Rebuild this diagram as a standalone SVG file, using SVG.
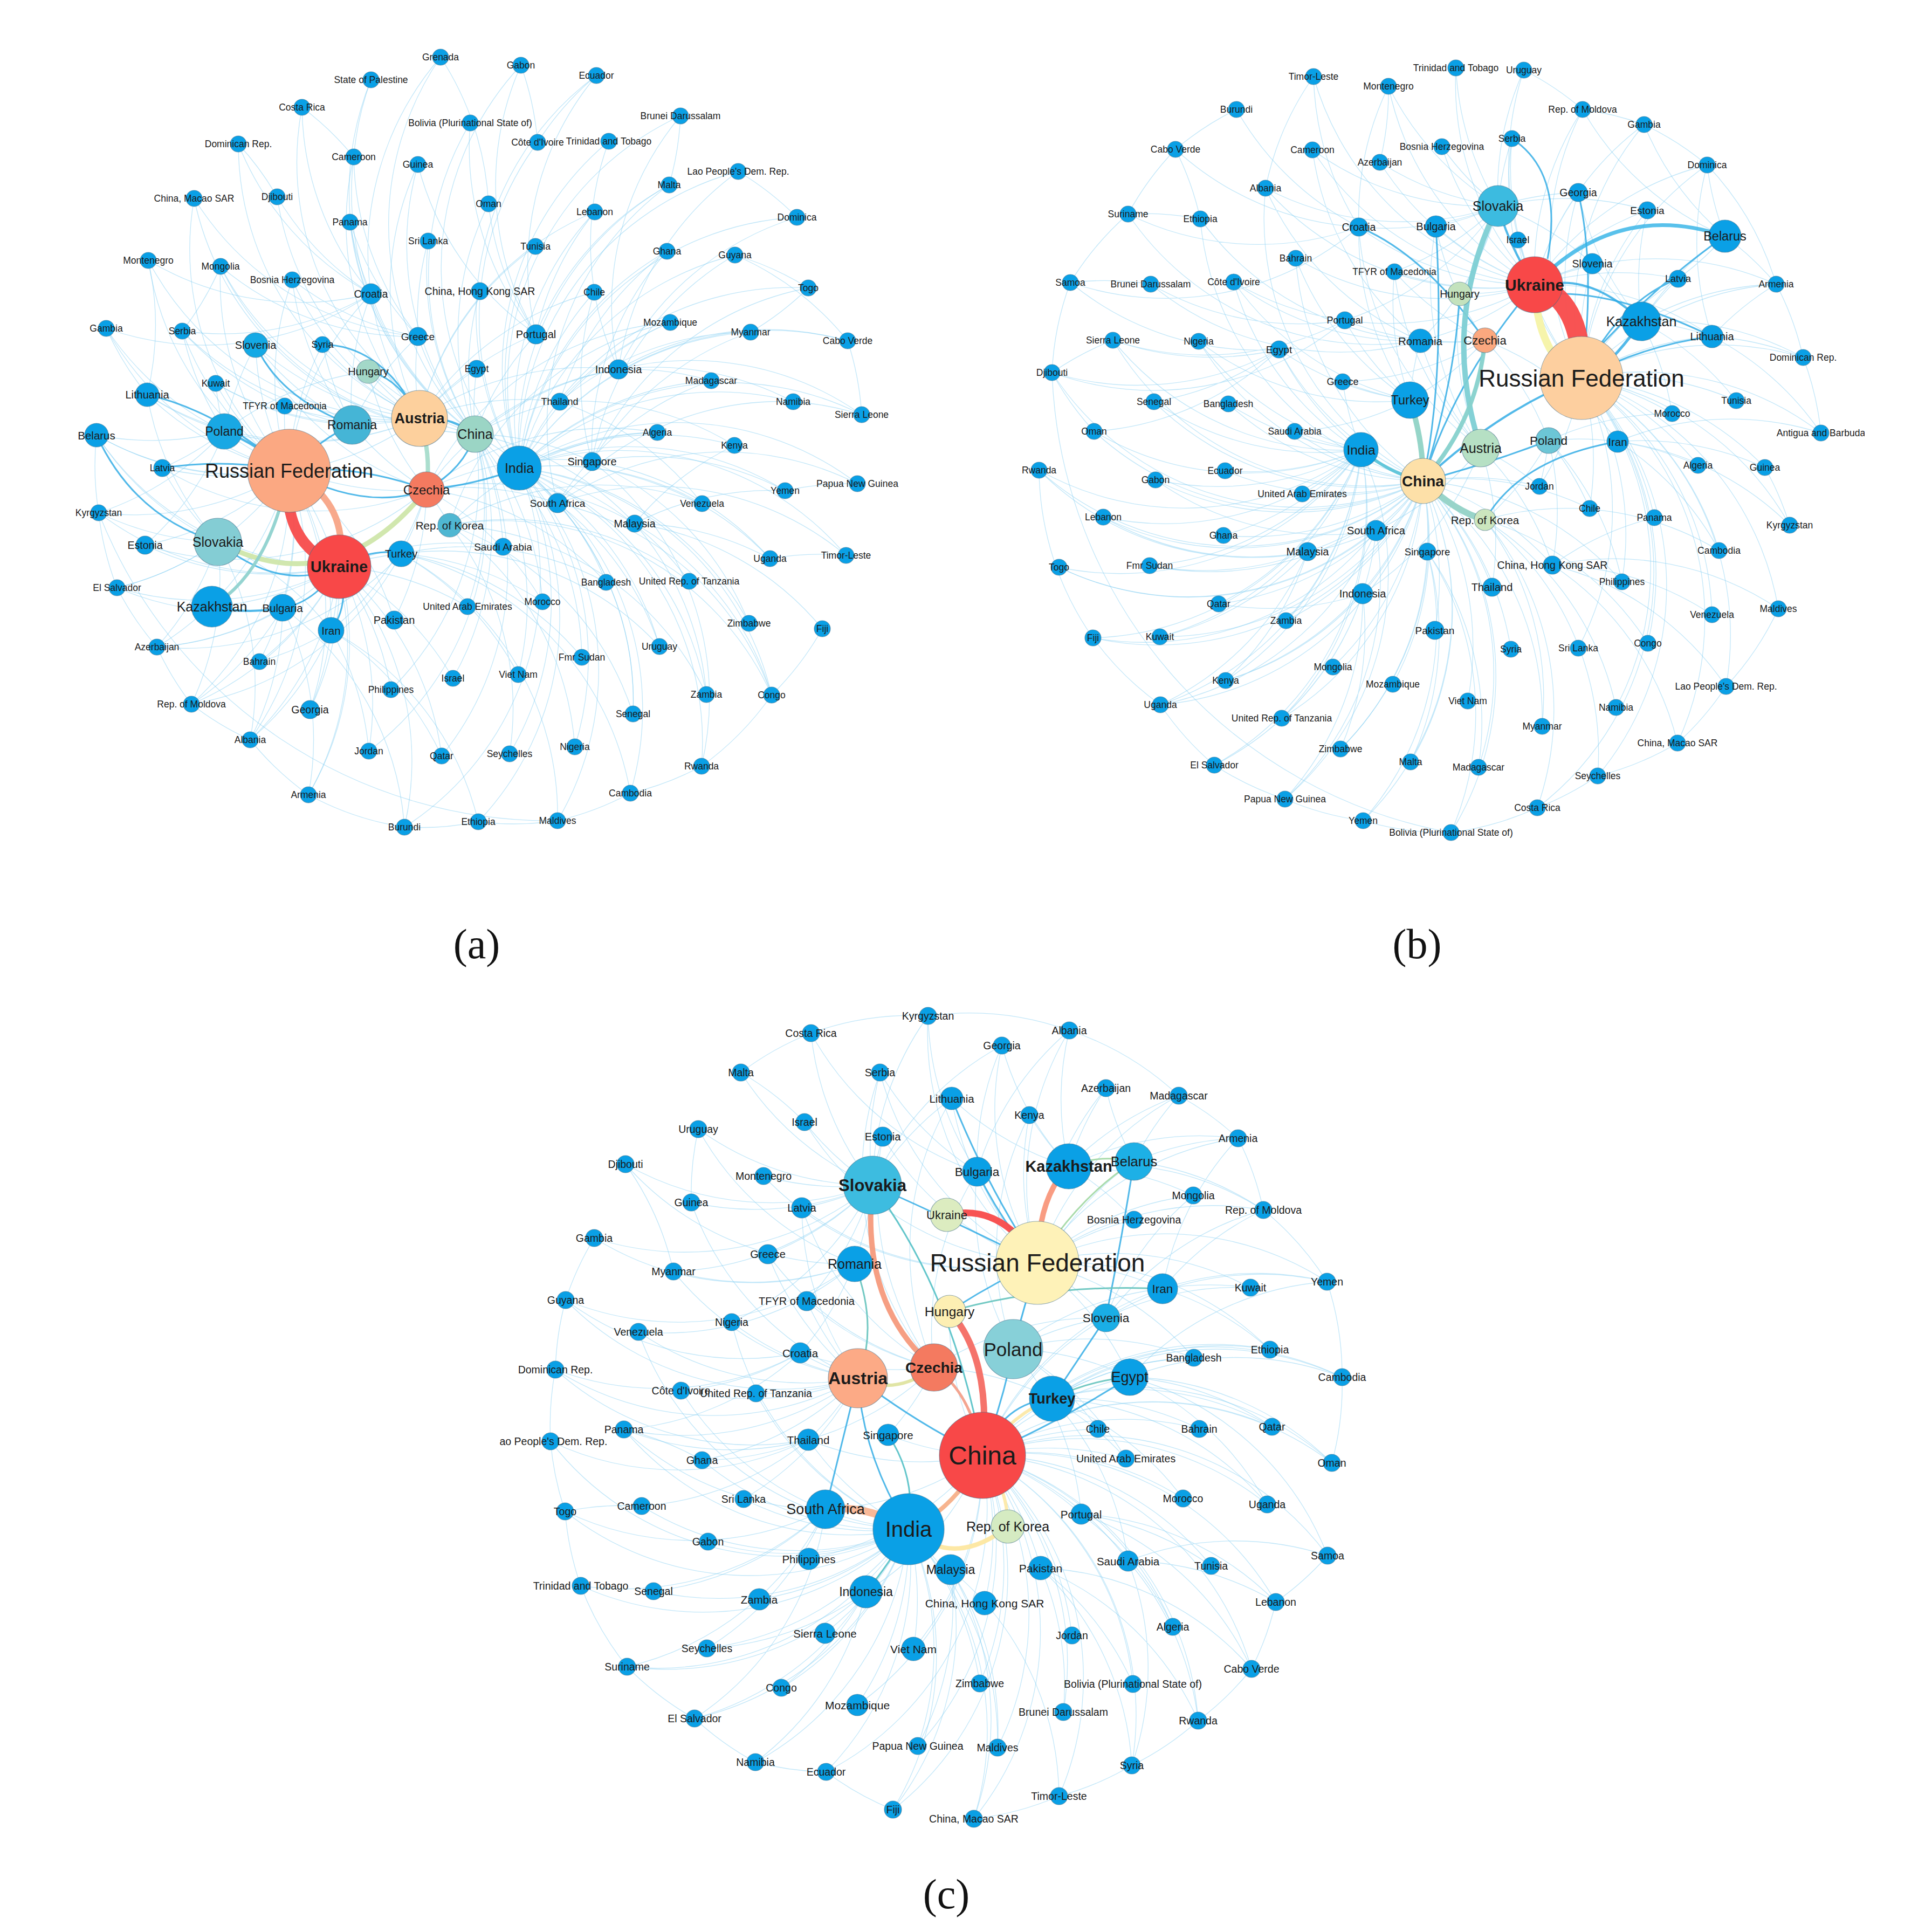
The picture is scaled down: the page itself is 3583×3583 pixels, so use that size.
<svg xmlns="http://www.w3.org/2000/svg" width="3583" height="3583" viewBox="0 0 3583 3583">
<defs>
<style>
.n circle{fill:#0aa0e6;stroke:#3d6a85;stroke-opacity:.55;stroke-width:1.2}
.n text{font-family:"Liberation Sans",Arial,sans-serif;font-size:17.5px;fill:#1b1b1b;text-anchor:middle;dominant-baseline:central}
#panel-c .n text{font-size:19.5px}
.e{fill:none;stroke:#86cff3;stroke-width:1.3;stroke-opacity:.5}
.m{fill:none;stroke:#27a7e3;stroke-width:3;stroke-opacity:.8}
.s{fill:none;stroke-linecap:round;stroke-opacity:.95}
.cap{font-family:"Liberation Serif","Times New Roman",serif;font-size:78px;text-anchor:middle;dominant-baseline:central;fill:#111}
</style>
<clipPath id="clipB"><rect x="1850" y="0" width="1608" height="1700"/></clipPath>
<clipPath id="clipC"><rect x="927" y="1800" width="1700" height="1700"/></clipPath>
</defs>
<rect width="3583" height="3583" fill="#fff"/>

<g id="panel-a">
<g id="a-connectors">
<path class="e" d="M963 868A550 550 0 0 1 966 121M963 868A550 550 0 0 1 1106 140M963 868A550 550 0 0 1 1262 215M963 868A550 550 0 0 1 1129 262M963 868A550 550 0 0 1 997 264M963 868A550 550 0 0 1 1369 318M963 868A550 550 0 0 1 1241 343M963 868A550 550 0 0 1 1103 393M963 868A550 550 0 0 1 1478 403M963 868A550 550 0 0 1 993 457M963 868A550 550 0 0 1 1237 466M963 868A550 550 0 0 1 1363 473M963 868A550 550 0 0 1 1499 534M963 868A550 550 0 0 1 1102 542M963 868A550 550 0 0 1 1243 598M963 868A550 550 0 0 1 1392 616M963 868A550 550 0 0 1 1572 632M963 868A550 550 0 0 1 1319 706M963 868A550 550 0 0 1 1471 745M963 868A550 550 0 0 1 1598 769M963 868A550 550 0 0 1 1219 802M963 868A550 550 0 0 1 1362 826M963 868A550 550 0 0 1 1590 897M963 868A550 550 0 0 1 1456 910M963 868A550 550 0 0 1 1302 934M963 868A550 550 0 0 1 1428 1036M963 868A550 550 0 0 1 1569 1030M963 868A550 550 0 0 1 1278 1078M963 868A550 550 0 0 1 1389 1156M963 868A550 550 0 0 1 1223 1199M963 868A550 550 0 0 1 1310 1288M963 868A550 550 0 0 1 1431 1289M963 868A550 550 0 0 1 1174 1324M963 868A550 550 0 0 1 1301 1421M963 868A550 550 0 0 1 1169 1471M963 868A550 550 0 0 1 1034 1522M963 868A550 550 0 0 1 1066 1385M963 868A550 550 0 0 1 945 1398M963 868A550 550 0 0 1 887 1524M963 868A550 550 0 0 1 750 1534"/>
<path class="e" d="M881 805A550 550 0 0 1 817 106M881 805A550 550 0 0 1 688 148M881 805A550 550 0 0 1 872 228M881 805A550 550 0 0 1 656 291M881 805A550 550 0 0 1 775 305M881 805A550 550 0 0 1 906 378M881 805A550 550 0 0 1 794 447M881 805A550 550 0 0 1 649 412M881 805A550 550 0 0 1 890 540M881 805A550 550 0 0 1 560 199M881 805A550 550 0 0 1 514 365M881 805A550 550 0 0 1 360 368M881 805A550 550 0 0 1 442 267M881 805A550 550 0 0 1 409 494M881 805A550 550 0 0 1 688 545M881 805A550 550 0 0 1 775 624M881 805A550 550 0 0 1 884 684M881 805A550 550 0 0 1 994 620M881 805A550 550 0 0 1 1147 685M881 805A550 550 0 0 1 1038 745M881 805A550 550 0 0 1 1098 856M881 805A550 550 0 0 1 1177 971M881 805A550 550 0 0 1 1124 1080M881 805A550 550 0 0 1 1006 1116M881 805A550 550 0 0 1 1079 1219M881 805A550 550 0 0 1 961 1251M881 805A550 550 0 0 1 867 1125M881 805A550 550 0 0 1 933 1014M881 805A550 550 0 0 1 1034 933M881 805A550 550 0 0 1 819 1402M881 805A550 550 0 0 1 684 1393M881 805A550 550 0 0 1 840 1258M881 805A550 550 0 0 1 725 1279"/>
<path class="e" d="M536 873A550 550 0 0 1 179 807M536 873A550 550 0 0 1 301 868M536 873A550 550 0 0 1 183 951M536 873A550 550 0 0 1 269 1011M536 873A550 550 0 0 1 217 1090M536 873A550 550 0 0 1 273 732M536 873A550 550 0 0 1 197 609M536 873A550 550 0 0 1 275 483M536 873A550 550 0 0 1 338 614M536 873A550 550 0 0 1 400 711M536 873A550 550 0 0 1 291 1200M536 873A550 550 0 0 1 355 1306M536 873A550 550 0 0 1 464 1372M536 873A550 550 0 0 1 572 1474M536 873A550 550 0 0 1 575 1316M536 873A550 550 0 0 1 481 1227M536 873A550 550 0 0 1 524 1127M536 873A550 550 0 0 1 614 1169M536 873A550 550 0 0 1 474 640M536 873A550 550 0 0 1 542 519M536 873A550 550 0 0 1 528 753M536 873A550 550 0 0 1 598 639M536 873A550 550 0 0 1 731 1150M536 873A550 550 0 0 1 409 494M536 873A550 550 0 0 1 360 368M536 873A550 550 0 0 1 688 545"/>
<path class="e" d="M629 1051A550 550 0 0 1 393 1125M629 1051A550 550 0 0 1 575 1316M629 1051A550 550 0 0 1 572 1474M629 1051A550 550 0 0 1 355 1306M629 1051A550 550 0 0 1 291 1200M629 1051A550 550 0 0 1 744 1027M629 1051A550 550 0 0 1 614 1169M629 1051A550 550 0 0 1 684 1393M629 1051A550 550 0 0 1 725 1279M629 1051A550 550 0 0 1 840 1258M629 1051A550 550 0 0 1 819 1402M629 1051A550 550 0 0 1 750 1534M629 1051A550 550 0 0 1 464 1372M629 1051A550 550 0 0 1 481 1227M629 1051A550 550 0 0 1 867 1125M629 1051A550 550 0 0 1 933 1014M629 1051A550 550 0 0 1 269 1011M629 1051A550 550 0 0 1 217 1090M629 1051A550 550 0 0 1 179 807M629 1051A550 550 0 0 1 183 951"/>
<path class="e" d="M778 776A550 550 0 0 1 683 689M778 776A550 550 0 0 1 474 640M778 776A550 550 0 0 1 688 545M778 776A550 550 0 0 1 542 519M778 776A550 550 0 0 1 338 614M778 776A550 550 0 0 1 275 483M778 776A550 550 0 0 1 409 494M778 776A550 550 0 0 1 528 753M778 776A550 550 0 0 1 598 639M778 776A550 550 0 0 1 775 624M778 776A550 550 0 0 1 884 684M778 776A550 550 0 0 1 400 711M778 776A550 550 0 0 1 273 732M778 776A550 550 0 0 1 179 807M778 776A550 550 0 0 1 416 800M778 776A550 550 0 0 1 994 620M778 776A550 550 0 0 1 1147 685M778 776A550 550 0 0 1 1038 745M778 776A550 550 0 0 1 1102 542M778 776A550 550 0 0 1 993 457M778 776A550 550 0 0 1 1103 393M778 776A550 550 0 0 1 656 291M778 776A550 550 0 0 1 775 305"/>
<path class="e" d="M791 908A550 550 0 0 1 416 800M791 908A550 550 0 0 1 653 788M791 908A550 550 0 0 1 683 689M791 908A550 550 0 0 1 474 640M791 908A550 550 0 0 1 744 1027M791 908A550 550 0 0 1 834 974M791 908A550 550 0 0 1 1034 933M791 908A550 550 0 0 1 1098 856M791 908A550 550 0 0 1 1177 971M791 908A550 550 0 0 1 1124 1080M791 908A550 550 0 0 1 1006 1116M791 908A550 550 0 0 1 731 1150M791 908A550 550 0 0 1 614 1169M791 908A550 550 0 0 1 1219 802M791 908A550 550 0 0 1 1243 598M791 908A550 550 0 0 1 1147 685M791 908A550 550 0 0 1 301 868M791 908A550 550 0 0 1 269 1011"/>
<path class="e" d="M416 800A550 550 0 0 1 179 807M416 800A550 550 0 0 1 273 732M416 800A550 550 0 0 1 301 868M416 800A550 550 0 0 1 197 609M416 800A550 550 0 0 1 338 614M416 800A550 550 0 0 1 400 711M416 800A550 550 0 0 1 183 951M416 800A550 550 0 0 1 269 1011M416 800A550 550 0 0 1 683 689M416 800A550 550 0 0 1 474 640M404 1005A550 550 0 0 1 179 807M404 1005A550 550 0 0 1 273 732M404 1005A550 550 0 0 1 301 868M404 1005A550 550 0 0 1 183 951M404 1005A550 550 0 0 1 217 1090M404 1005A550 550 0 0 1 291 1200M404 1005A550 550 0 0 1 355 1306M404 1005A550 550 0 0 1 464 1372M404 1005A550 550 0 0 1 614 1169M653 788A550 550 0 0 1 474 640M653 788A550 550 0 0 1 542 519M653 788A550 550 0 0 1 338 614M653 788A550 550 0 0 1 400 711M653 788A550 550 0 0 1 598 639M653 788A550 550 0 0 1 688 545M653 788A550 550 0 0 1 775 624"/>
<path class="e" d="M744 1027A550 550 0 0 1 1079 1219M744 1027A550 550 0 0 1 1223 1199M744 1027A550 550 0 0 1 961 1251M744 1027A550 550 0 0 1 1006 1116M744 1027A550 550 0 0 1 1124 1080M744 1027A550 550 0 0 1 355 1306M744 1027A550 550 0 0 1 291 1200M744 1027A550 550 0 0 1 1169 1471M744 1027A550 550 0 0 1 1034 1522M834 974A550 550 0 0 1 1302 934M834 974A550 550 0 0 1 1278 1078M834 974A550 550 0 0 1 1310 1288M834 974A550 550 0 0 1 1174 1324M834 974A550 550 0 0 1 1066 1385M834 974A550 550 0 0 1 945 1398M834 974A550 550 0 0 1 1431 1289M834 974A550 550 0 0 1 1219 802M834 974A550 550 0 0 1 1243 598M1098 856A550 550 0 0 1 1363 473M1098 856A550 550 0 0 1 1392 616M1098 856A550 550 0 0 1 1499 534M1098 856A550 550 0 0 1 1456 910M1098 856A550 550 0 0 1 1428 1036M1098 856A550 550 0 0 1 1389 1156M1098 856A550 550 0 0 1 1301 1421M1098 856A550 550 0 0 1 1237 466M1098 856A550 550 0 0 1 1102 542M1034 933A550 550 0 0 1 1471 745M1034 933A550 550 0 0 1 1319 706M1034 933A550 550 0 0 1 1590 897M1034 933A550 550 0 0 1 1569 1030M1034 933A550 550 0 0 1 1431 1289M1034 933A550 550 0 0 1 1174 1324M1034 933A550 550 0 0 1 1223 1199M1034 933A550 550 0 0 1 1241 343"/>
<path class="e" d="M1147 685A550 550 0 0 1 1369 318M1147 685A550 550 0 0 1 1262 215M1147 685A550 550 0 0 1 1129 262M1147 685A550 550 0 0 1 1478 403M1147 685A550 550 0 0 1 1572 632M1147 685A550 550 0 0 1 1598 769M1147 685A550 550 0 0 1 1319 706M1147 685A550 550 0 0 1 1471 745M994 620A550 550 0 0 1 872 228M994 620A550 550 0 0 1 966 121M994 620A550 550 0 0 1 1106 140M994 620A550 550 0 0 1 775 305M994 620A550 550 0 0 1 906 378M994 620A550 550 0 0 1 1241 343M994 620A550 550 0 0 1 1103 393M688 545A550 550 0 0 1 442 267M688 545A550 550 0 0 1 560 199M688 545A550 550 0 0 1 514 365M688 545A550 550 0 0 1 649 412M688 545A550 550 0 0 1 275 483M688 545A550 550 0 0 1 338 614M688 545A550 550 0 0 1 197 609M688 545A550 550 0 0 1 817 106M775 624A550 550 0 0 1 409 494M775 624A550 550 0 0 1 542 519M775 624A550 550 0 0 1 360 368M775 624A550 550 0 0 1 649 412M775 624A550 550 0 0 1 794 447M775 624A550 550 0 0 1 656 291M1038 745A550 550 0 0 1 1243 598M1038 745A550 550 0 0 1 1392 616M1038 745A550 550 0 0 1 1362 826M1038 745A550 550 0 0 1 1302 934M1038 745A550 550 0 0 1 1237 466M1177 971A550 550 0 0 1 1362 826M1177 971A550 550 0 0 1 1456 910M1177 971A550 550 0 0 1 1428 1036M1177 971A550 550 0 0 1 1310 1288M1177 971A550 550 0 0 1 1431 1289M1177 971A550 550 0 0 1 1525 1166M524 1127A550 550 0 0 1 217 1090M524 1127A550 550 0 0 1 291 1200M524 1127A550 550 0 0 1 355 1306M524 1127A550 550 0 0 1 464 1372M524 1127A550 550 0 0 1 572 1474M524 1127A550 550 0 0 1 750 1534M614 1169A550 550 0 0 1 481 1227M614 1169A550 550 0 0 1 464 1372M614 1169A550 550 0 0 1 684 1393M614 1169A550 550 0 0 1 819 1402M614 1169A550 550 0 0 1 887 1524M614 1169A550 550 0 0 1 575 1316"/>
<path class="e" d="M275 483A550 550 0 0 1 273 732M409 494A550 550 0 0 1 338 614M442 267A550 550 0 0 1 514 365M560 199A550 550 0 0 1 656 291M688 148A550 550 0 0 0 656 291M817 106A550 550 0 0 1 906 378M966 121A550 550 0 0 1 997 264M1106 140A550 550 0 0 0 997 264M1262 215A550 550 0 0 1 1241 343M1369 318A550 550 0 0 1 1478 403M1363 473A550 550 0 0 1 1572 632M1499 534A550 550 0 0 1 1392 616M1572 632A550 550 0 0 1 1598 769M1598 769A550 550 0 0 0 1471 745M1590 897A550 550 0 0 0 1456 910M1569 1030A550 550 0 0 0 1428 1036M1525 1166A550 550 0 0 1 1431 1289M1431 1289A550 550 0 0 1 1301 1421M1301 1421A550 550 0 0 1 1169 1471M1169 1471A550 550 0 0 1 1034 1522M1034 1522A550 550 0 0 1 887 1524M887 1524A550 550 0 0 1 750 1534M750 1534A550 550 0 0 1 572 1474M572 1474A550 550 0 0 1 464 1372M464 1372A550 550 0 0 1 355 1306M355 1306A550 550 0 0 1 291 1200M291 1200A550 550 0 0 1 217 1090M217 1090A550 550 0 0 1 183 951M183 951A550 550 0 0 1 179 807M183 951A900 900 0 0 0 1034 1522M197 609A550 550 0 0 0 273 732M1363 473A550 550 0 0 1 1499 534"/>
<path class="m" d="M179 807Q250 960 404 1005M404 1005Q520 1100 629 1051M536 873Q660 860 791 908M536 873Q680 950 791 908M598 639Q710 640 778 776M474 640Q520 740 653 788M629 1051Q580 1120 524 1127M629 1051Q650 1120 614 1169M629 1051Q690 1015 744 1027M791 908Q860 870 881 805M791 908Q880 900 963 868M683 689Q740 700 778 776M653 788Q600 810 536 873M273 732Q400 760 536 873M301 868Q420 850 536 873"/>
<path class="m" style="stroke-width:4" d="M393 1125Q460 1140 524 1127M416 800Q470 820 536 873M778 776Q830 770 881 805"/>
<path class="s" style="stroke:#cfe6aa;stroke-width:9" d="M404 1005Q620 1120 791 908"/>
<path class="s" style="stroke:#8fd2cf;stroke-width:6" d="M393 1125Q500 1060 536 873"/>
<path class="s" style="stroke:#a7dccb;stroke-width:8" d="M778 776Q800 840 791 908"/>
<path class="s" style="stroke:#f8a486;stroke-width:12" d="M536 873Q650 930 629 1051"/>
<path class="s" style="stroke:#f74b4b;stroke-width:20" d="M536 873Q520 1010 629 1051"/>
</g>
<g id="a-nodes">
<g id="a-russian-federation" class="n" transform="translate(536,873)"><circle r="77" style="fill:#fba882"/><text style="font-size:36px">Russian Federation</text></g>
<g id="a-ukraine" class="n" transform="translate(629,1051)"><circle r="59" style="fill:#f84848"/><text style="font-size:29px;font-weight:bold">Ukraine</text></g>
<g id="a-austria" class="n" transform="translate(778,776)"><circle r="52" style="fill:#fdd09d"/><text style="font-size:27px;font-weight:bold">Austria</text></g>
<g id="a-slovakia" class="n" transform="translate(404,1005)"><circle r="44" style="fill:#84cdd4"/><text style="font-size:25px">Slovakia</text></g>
<g id="a-india" class="n" transform="translate(963,868)"><circle r="41"/><text style="font-size:25px">India</text></g>
<g id="a-kazakhstan" class="n" transform="translate(393,1125)"><circle r="38"/><text style="font-size:25px">Kazakhstan</text></g>
<g id="a-romania" class="n" transform="translate(653,788)"><circle r="36" style="fill:#45b5d6"/><text style="font-size:23px">Romania</text></g>
<g id="a-china" class="n" transform="translate(881,805)"><circle r="34" style="fill:#9bd5c5"/><text style="font-size:25px">China</text></g>
<g id="a-czechia" class="n" transform="translate(791,908)"><circle r="33" style="fill:#f47a60"/><text style="font-size:24px">Czechia</text></g>
<g id="a-poland" class="n" transform="translate(416,800)"><circle r="33" style="fill:#19a8e4"/><text style="font-size:23px">Poland</text></g>
<g id="a-bulgaria" class="n" transform="translate(524,1127)"><circle r="25"/><text style="font-size:20.5px">Bulgaria</text></g>
<g id="a-turkey" class="n" transform="translate(744,1027)"><circle r="24"/><text style="font-size:20px">Turkey</text></g>
<g id="a-iran" class="n" transform="translate(614,1169)"><circle r="24"/><text style="font-size:20.5px">Iran</text></g>
<g id="a-slovenia" class="n" transform="translate(474,640)"><circle r="23" style="fill:#14a9e5"/><text style="font-size:20px">Slovenia</text></g>
<g id="a-hungary" class="n" transform="translate(683,689)"><circle r="22" style="fill:#a3d8c8"/><text style="font-size:20px">Hungary</text></g>
<g id="a-lithuania" class="n" transform="translate(273,732)"><circle r="22"/><text style="font-size:20px">Lithuania</text></g>
<g id="a-belarus" class="n" transform="translate(179,807)"><circle r="22"/><text style="font-size:20.5px">Belarus</text></g>
<g id="a-rep-korea" class="n" transform="translate(834,974)"><circle r="22" style="fill:#4fb7d2"/><text style="font-size:20.5px">Rep. of Korea</text></g>
<g id="a-croatia" class="n" transform="translate(688,545)"><circle r="19"/><text style="font-size:19.5px">Croatia</text></g>
<g id="a-south-africa" class="n" transform="translate(1034,933)"><circle r="18"/><text style="font-size:19px">South Africa</text></g>
<g id="a-indonesia" class="n" transform="translate(1147,685)"><circle r="18"/><text style="font-size:20px">Indonesia</text></g>
<g id="a-portugal" class="n" transform="translate(994,620)"><circle r="18"/><text style="font-size:20px">Portugal</text></g>
<g id="a-singapore" class="n" transform="translate(1098,856)"><circle r="17"/><text style="font-size:20px">Singapore</text></g>
<g id="a-greece" class="n" transform="translate(775,624)"><circle r="17"/><text style="font-size:19px">Greece</text></g>
<g id="a-pakistan" class="n" transform="translate(731,1150)"><circle r="17"/><text style="font-size:20px">Pakistan</text></g>
<g id="a-georgia" class="n" transform="translate(575,1316)"><circle r="17"/><text style="font-size:19.5px">Georgia</text></g>
<g id="a-estonia" class="n" transform="translate(269,1011)"><circle r="17"/><text style="font-size:19.5px">Estonia</text></g>
<g id="a-malaysia" class="n" transform="translate(1177,971)"><circle r="16"/><text style="font-size:19.5px">Malaysia</text></g>
<g id="a-saudi-arabia" class="n" transform="translate(933,1014)"><circle r="16"/><text style="font-size:19px">Saudi Arabia</text></g>
<g id="a-thailand" class="n" transform="translate(1038,745)"><circle r="16"/><text style="font-size:18px">Thailand</text></g>
<g id="a-hong-kong" class="n" transform="translate(890,540)"><circle r="16"/><text style="font-size:19.5px">China, Hong Kong SAR</text></g>
<g id="a-egypt" class="n" transform="translate(884,684)"><circle r="16"/><text>Egypt</text></g>
<g id="a-syria" class="n" transform="translate(598,639)"><circle r="15"/><text style="font-size:18px">Syria</text></g>
<g id="a-grenada" class="n" transform="translate(817,106)"><circle r="15"/><text>Grenada</text></g>
<g id="a-palestine" class="n" transform="translate(688,148)"><circle r="15"/><text>State of Palestine</text></g>
<g id="a-costa-rica" class="n" transform="translate(560,199)"><circle r="15"/><text>Costa Rica</text></g>
<g id="a-bolivia" class="n" transform="translate(872,228)"><circle r="15"/><text>Bolivia (Plurinational State of)</text></g>
<g id="a-dominican-rep" class="n" transform="translate(442,267)"><circle r="15"/><text>Dominican Rep.</text></g>
<g id="a-cameroon" class="n" transform="translate(656,291)"><circle r="15"/><text>Cameroon</text></g>
<g id="a-guinea" class="n" transform="translate(775,305)"><circle r="15"/><text>Guinea</text></g>
<g id="a-macao" class="n" transform="translate(360,368)"><circle r="15"/><text>China, Macao SAR</text></g>
<g id="a-djibouti" class="n" transform="translate(514,365)"><circle r="15"/><text>Djibouti</text></g>
<g id="a-oman" class="n" transform="translate(906,378)"><circle r="15"/><text>Oman</text></g>
<g id="a-panama" class="n" transform="translate(649,412)"><circle r="15"/><text>Panama</text></g>
<g id="a-sri-lanka" class="n" transform="translate(794,447)"><circle r="15"/><text>Sri Lanka</text></g>
<g id="a-montenegro" class="n" transform="translate(275,483)"><circle r="15"/><text>Montenegro</text></g>
<g id="a-mongolia" class="n" transform="translate(409,494)"><circle r="15"/><text>Mongolia</text></g>
<g id="a-bosnia" class="n" transform="translate(542,519)"><circle r="15"/><text>Bosnia Herzegovina</text></g>
<g id="a-gambia" class="n" transform="translate(197,609)"><circle r="15"/><text>Gambia</text></g>
<g id="a-serbia" class="n" transform="translate(338,614)"><circle r="15"/><text>Serbia</text></g>
<g id="a-kuwait" class="n" transform="translate(400,711)"><circle r="15"/><text>Kuwait</text></g>
<g id="a-macedonia" class="n" transform="translate(528,753)"><circle r="15"/><text>TFYR of Macedonia</text></g>
<g id="a-gabon" class="n" transform="translate(966,121)"><circle r="15"/><text>Gabon</text></g>
<g id="a-ecuador" class="n" transform="translate(1106,140)"><circle r="15"/><text>Ecuador</text></g>
<g id="a-brunei" class="n" transform="translate(1262,215)"><circle r="15"/><text>Brunei Darussalam</text></g>
<g id="a-cote-divoire" class="n" transform="translate(997,264)"><circle r="15"/><text>Côte d'Ivoire</text></g>
<g id="a-trinidad" class="n" transform="translate(1129,262)"><circle r="15"/><text>Trinidad and Tobago</text></g>
<g id="a-lao" class="n" transform="translate(1369,318)"><circle r="15"/><text>Lao People's Dem. Rep.</text></g>
<g id="a-malta" class="n" transform="translate(1241,343)"><circle r="15"/><text>Malta</text></g>
<g id="a-dominica" class="n" transform="translate(1478,403)"><circle r="15"/><text>Dominica</text></g>
<g id="a-lebanon" class="n" transform="translate(1103,393)"><circle r="15"/><text>Lebanon</text></g>
<g id="a-tunisia" class="n" transform="translate(993,457)"><circle r="15"/><text>Tunisia</text></g>
<g id="a-ghana" class="n" transform="translate(1237,466)"><circle r="15"/><text>Ghana</text></g>
<g id="a-guyana" class="n" transform="translate(1363,473)"><circle r="15"/><text>Guyana</text></g>
<g id="a-togo" class="n" transform="translate(1499,534)"><circle r="15"/><text>Togo</text></g>
<g id="a-chile" class="n" transform="translate(1102,542)"><circle r="15"/><text>Chile</text></g>
<g id="a-mozambique" class="n" transform="translate(1243,598)"><circle r="15"/><text>Mozambique</text></g>
<g id="a-myanmar" class="n" transform="translate(1392,616)"><circle r="15"/><text>Myanmar</text></g>
<g id="a-cabo-verde" class="n" transform="translate(1572,632)"><circle r="15"/><text>Cabo Verde</text></g>
<g id="a-madagascar" class="n" transform="translate(1319,706)"><circle r="15"/><text>Madagascar</text></g>
<g id="a-namibia" class="n" transform="translate(1471,745)"><circle r="15"/><text>Namibia</text></g>
<g id="a-sierra-leone" class="n" transform="translate(1598,769)"><circle r="15"/><text>Sierra Leone</text></g>
<g id="a-algeria" class="n" transform="translate(1219,802)"><circle r="15"/><text>Algeria</text></g>
<g id="a-kenya" class="n" transform="translate(1362,826)"><circle r="15"/><text>Kenya</text></g>
<g id="a-latvia" class="n" transform="translate(301,868)"><circle r="16"/><text>Latvia</text></g>
<g id="a-kyrgyzstan" class="n" transform="translate(183,951)"><circle r="15"/><text>Kyrgyzstan</text></g>
<g id="a-el-salvador" class="n" transform="translate(217,1090)"><circle r="15"/><text>El Salvador</text></g>
<g id="a-uae" class="n" transform="translate(867,1125)"><circle r="15"/><text>United Arab Emirates</text></g>
<g id="a-azerbaijan" class="n" transform="translate(291,1200)"><circle r="15"/><text>Azerbaijan</text></g>
<g id="a-bahrain" class="n" transform="translate(481,1227)"><circle r="15"/><text>Bahrain</text></g>
<g id="a-israel" class="n" transform="translate(840,1258)"><circle r="15"/><text>Israel</text></g>
<g id="a-philippines" class="n" transform="translate(725,1279)"><circle r="15"/><text>Philippines</text></g>
<g id="a-moldova" class="n" transform="translate(355,1306)"><circle r="15"/><text>Rep. of Moldova</text></g>
<g id="a-albania" class="n" transform="translate(464,1372)"><circle r="15"/><text>Albania</text></g>
<g id="a-jordan" class="n" transform="translate(684,1393)"><circle r="15"/><text>Jordan</text></g>
<g id="a-qatar" class="n" transform="translate(819,1402)"><circle r="15"/><text>Qatar</text></g>
<g id="a-armenia" class="n" transform="translate(572,1474)"><circle r="15"/><text>Armenia</text></g>
<g id="a-burundi" class="n" transform="translate(750,1534)"><circle r="15"/><text>Burundi</text></g>
<g id="a-ethiopia" class="n" transform="translate(887,1524)"><circle r="15"/><text>Ethiopia</text></g>
<g id="a-yemen" class="n" transform="translate(1456,910)"><circle r="15"/><text>Yemen</text></g>
<g id="a-png" class="n" transform="translate(1590,897)"><circle r="15"/><text>Papua New Guinea</text></g>
<g id="a-venezuela" class="n" transform="translate(1302,934)"><circle r="15"/><text>Venezuela</text></g>
<g id="a-uganda" class="n" transform="translate(1428,1036)"><circle r="15"/><text>Uganda</text></g>
<g id="a-timor-leste" class="n" transform="translate(1569,1030)"><circle r="15"/><text>Timor-Leste</text></g>
<g id="a-bangladesh" class="n" transform="translate(1124,1080)"><circle r="15"/><text>Bangladesh</text></g>
<g id="a-tanzania" class="n" transform="translate(1278,1078)"><circle r="15"/><text>United Rep. of Tanzania</text></g>
<g id="a-morocco" class="n" transform="translate(1006,1116)"><circle r="15"/><text>Morocco</text></g>
<g id="a-zimbabwe" class="n" transform="translate(1389,1156)"><circle r="15"/><text>Zimbabwe</text></g>
<g id="a-fiji" class="n" transform="translate(1525,1166)"><circle r="15"/><text>Fiji</text></g>
<g id="a-uruguay" class="n" transform="translate(1223,1199)"><circle r="15"/><text>Uruguay</text></g>
<g id="a-fmr-sudan" class="n" transform="translate(1079,1219)"><circle r="15"/><text>Fmr Sudan</text></g>
<g id="a-viet-nam" class="n" transform="translate(961,1251)"><circle r="15"/><text>Viet Nam</text></g>
<g id="a-zambia" class="n" transform="translate(1310,1288)"><circle r="15"/><text>Zambia</text></g>
<g id="a-congo" class="n" transform="translate(1431,1289)"><circle r="15"/><text>Congo</text></g>
<g id="a-senegal" class="n" transform="translate(1174,1324)"><circle r="15"/><text>Senegal</text></g>
<g id="a-seychelles" class="n" transform="translate(945,1398)"><circle r="15"/><text>Seychelles</text></g>
<g id="a-nigeria" class="n" transform="translate(1066,1385)"><circle r="15"/><text>Nigeria</text></g>
<g id="a-rwanda" class="n" transform="translate(1301,1421)"><circle r="15"/><text>Rwanda</text></g>
<g id="a-cambodia" class="n" transform="translate(1169,1471)"><circle r="15"/><text>Cambodia</text></g>
<g id="a-maldives" class="n" transform="translate(1034,1522)"><circle r="15"/><text>Maldives</text></g>
</g>
</g>

<g id="panel-b" clip-path="url(#clipB)">
<g id="b-connectors">
<path class="e" d="M2639 892A550 550 0 0 1 2403 479M2639 892A550 550 0 0 1 2347 349M2639 892A550 550 0 0 1 2226 406M2639 892A550 550 0 0 1 2288 523M2639 892A550 550 0 0 1 2223 633M2639 892A550 550 0 0 1 2372 648M2639 892A550 550 0 0 1 2278 749M2639 892A550 550 0 0 1 2401 800M2639 892A550 550 0 0 1 2140 745M2639 892A550 550 0 0 1 2064 631M2639 892A550 550 0 0 1 1951 691M2639 892A550 550 0 0 1 2029 800M2639 892A550 550 0 0 1 1927 872M2639 892A550 550 0 0 1 2143 890M2639 892A550 550 0 0 1 2272 873M2639 892A550 550 0 0 1 2415 916M2639 892A550 550 0 0 1 2046 959M2639 892A550 550 0 0 1 2269 993M2639 892A550 550 0 0 1 2425 1023M2639 892A550 550 0 0 1 2647 1023M2639 892A550 550 0 0 1 1964 1052M2639 892A550 550 0 0 1 2132 1049M2639 892A550 550 0 0 1 2527 1101M2639 892A550 550 0 0 1 2260 1120M2639 892A550 550 0 0 1 2385 1151M2639 892A550 550 0 0 1 2661 1169M2639 892A550 550 0 0 1 2027 1183M2639 892A550 550 0 0 1 2151 1181M2639 892A550 550 0 0 1 2472 1237M2639 892A550 550 0 0 1 2273 1262M2639 892A550 550 0 0 1 2583 1269M2639 892A550 550 0 0 1 2152 1307M2639 892A550 550 0 0 1 2377 1332M2639 892A550 550 0 0 1 2486 1389M2639 892A550 550 0 0 1 2616 1413M2639 892A550 550 0 0 1 2528 1522M2639 892A550 550 0 0 1 2691 1544M2639 892A550 550 0 0 1 2722 1300M2639 892A550 550 0 0 1 2742 1423M2639 892A550 550 0 0 1 2860 1347M2639 892A550 550 0 0 1 2802 1204M2639 892A550 550 0 0 1 2767 1089M2639 892A550 550 0 0 1 2879 1048M2639 892A550 550 0 0 1 2855 902M2639 892A550 550 0 0 1 2948 943M2639 892A550 550 0 0 1 3008 1079"/>
<path class="e" d="M2933 701A550 550 0 0 1 3049 231M2933 701A550 550 0 0 1 3166 306M2933 701A550 550 0 0 1 3294 527M2933 701A550 550 0 0 1 3344 663M2933 701A550 550 0 0 1 3220 743M2933 701A550 550 0 0 1 3101 767M2933 701A550 550 0 0 1 3377 803M2933 701A550 550 0 0 1 3149 863M2933 701A550 550 0 0 1 3273 867M2933 701A550 550 0 0 1 3068 960M2933 701A550 550 0 0 1 3319 974M2933 701A550 550 0 0 1 3188 1021M2933 701A550 550 0 0 1 3175 1140M2933 701A550 550 0 0 1 3298 1129M2933 701A550 550 0 0 1 3056 1193M2933 701A550 550 0 0 1 3201 1273M2933 701A550 550 0 0 1 3111 1378M2933 701A550 550 0 0 1 2997 1312M2933 701A550 550 0 0 1 2963 1439M2933 701A550 550 0 0 1 2851 1498M2933 701A550 550 0 0 1 2927 1202M2933 701A550 550 0 0 1 3008 1079M2933 701A550 550 0 0 1 2948 943M2933 701A550 550 0 0 1 2855 902M2933 701A550 550 0 0 1 3112 517M2933 701A550 550 0 0 1 3055 390M2933 701A550 550 0 0 1 2953 489M2933 701A550 550 0 0 1 3175 624M2933 701A550 550 0 0 1 2927 357M2933 701A550 550 0 0 1 2935 203M2933 701A550 550 0 0 1 2804 257M2933 701A550 550 0 0 1 2815 445"/>
<path class="e" d="M2846 528A550 550 0 0 1 2436 142M2846 528A550 550 0 0 1 2575 160M2846 528A550 550 0 0 1 2700 126M2846 528A550 550 0 0 1 2826 130M2846 528A550 550 0 0 1 2935 203M2846 528A550 550 0 0 1 3049 231M2846 528A550 550 0 0 1 2804 257M2846 528A550 550 0 0 1 2674 272M2846 528A550 550 0 0 1 2559 301M2846 528A550 550 0 0 1 2434 278M2846 528A550 550 0 0 1 2520 421M2846 528A550 550 0 0 1 2663 420M2846 528A550 550 0 0 1 2586 504M2846 528A550 550 0 0 1 2927 357M2846 528A550 550 0 0 1 3055 390M2846 528A550 550 0 0 1 2815 445M2846 528A550 550 0 0 1 2953 489M2846 528A550 550 0 0 1 3112 517M2846 528A550 550 0 0 1 3294 527M2846 528A550 550 0 0 1 2707 545M2846 528A550 550 0 0 1 3175 624M2846 528A550 550 0 0 1 2634 632M2846 528A550 550 0 0 1 2494 594M2846 528A550 550 0 0 1 2403 479M2846 528A550 550 0 0 1 2347 349M2846 528A550 550 0 0 1 3166 306"/>
<path class="e" d="M2778 382A550 550 0 0 1 2575 160M2778 382A550 550 0 0 1 2700 126M2778 382A550 550 0 0 1 2826 130M2778 382A550 550 0 0 1 2674 272M2778 382A550 550 0 0 1 2559 301M2778 382A550 550 0 0 1 2434 278M2778 382A550 550 0 0 1 2520 421M2778 382A550 550 0 0 1 2663 420M2778 382A550 550 0 0 1 2586 504M2778 382A550 550 0 0 1 2494 594M2778 382A550 550 0 0 1 2634 632M2778 382A550 550 0 0 1 2707 545M2778 382A550 550 0 0 1 2347 349M2778 382A550 550 0 0 1 2804 257M2778 382A550 550 0 0 1 2927 357M2778 382A550 550 0 0 1 2953 489M2778 382A550 550 0 0 1 3055 390"/>
<path class="e" d="M2524 834A550 550 0 0 1 2372 648M2524 834A550 550 0 0 1 2278 749M2524 834A550 550 0 0 1 2401 800M2524 834A550 550 0 0 1 2140 745M2524 834A550 550 0 0 1 2029 800M2524 834A550 550 0 0 1 1927 872M2524 834A550 550 0 0 1 2143 890M2524 834A550 550 0 0 1 2272 873M2524 834A550 550 0 0 1 2415 916M2524 834A550 550 0 0 1 2046 959M2524 834A550 550 0 0 1 2269 993M2524 834A550 550 0 0 1 2132 1049M2524 834A550 550 0 0 1 2260 1120M2524 834A550 550 0 0 1 2385 1151M2524 834A550 550 0 0 1 2151 1181M2524 834A550 550 0 0 1 2273 1262M2524 834A550 550 0 0 1 2152 1307M2524 834A550 550 0 0 1 2377 1332M2524 834A550 550 0 0 1 2252 1419M2524 834A550 550 0 0 1 2383 1482M2524 834A550 550 0 0 1 2490 708M2524 834A550 550 0 0 1 2223 633M2524 834A550 550 0 0 1 2064 631M2524 834A550 550 0 0 1 1964 1052M2524 834A550 550 0 0 1 2027 1183"/>
<path class="e" d="M2615 742A550 550 0 0 1 2490 708M2615 742A550 550 0 0 1 2372 648M2615 742A550 550 0 0 1 2494 594M2615 742A550 550 0 0 1 2520 421M2615 742A550 550 0 0 1 2403 479M2615 742A550 550 0 0 1 2288 523M2615 742A550 550 0 0 1 2223 633M2615 742A550 550 0 0 1 2401 800M2615 742A550 550 0 0 1 2586 504M2615 742A550 550 0 0 1 2634 632M3044 596A550 550 0 0 1 3112 517M3044 596A550 550 0 0 1 3175 624M3044 596A550 550 0 0 1 3294 527M3044 596A550 550 0 0 1 3220 743M3044 596A550 550 0 0 1 3101 767M3044 596A550 550 0 0 1 3199 438M3044 596A550 550 0 0 1 2953 489M3044 596A550 550 0 0 1 3055 390M3044 596A550 550 0 0 1 2927 357M3044 596A550 550 0 0 1 3344 663M2746 831A550 550 0 0 1 2634 632M2746 831A550 550 0 0 1 2663 420M2746 831A550 550 0 0 1 2520 421M2746 831A550 550 0 0 1 2586 504M2746 831A550 550 0 0 1 2707 545M2746 831A550 550 0 0 1 2879 1048M2746 831A550 550 0 0 1 2767 1089M2746 831A550 550 0 0 1 2855 902M2746 831A550 550 0 0 1 2552 984M2746 831A550 550 0 0 1 2527 1101M2754 631A550 550 0 0 1 2634 632M2754 631A550 550 0 0 1 2494 594M2754 631A550 550 0 0 1 2586 504M2754 631A550 550 0 0 1 2663 420M2754 631A550 550 0 0 1 2490 708M2754 631A550 550 0 0 1 2615 742M2754 631A550 550 0 0 1 2872 817M2754 631A550 550 0 0 1 3000 819M2872 817A550 550 0 0 1 2855 902M2872 817A550 550 0 0 1 2948 943M2872 817A550 550 0 0 1 3000 819M2872 817A550 550 0 0 1 3101 767M2872 817A550 550 0 0 1 2754 964M2872 817A550 550 0 0 1 2879 1048M2872 817A550 550 0 0 1 3008 1079"/>
<path class="e" d="M2634 632A550 550 0 0 1 2434 278M2634 632A550 550 0 0 1 2347 349M2634 632A550 550 0 0 1 2226 406M2634 632A550 550 0 0 1 2288 523M2634 632A550 550 0 0 1 2092 397M2634 632A550 550 0 0 1 2134 527M2520 421A550 550 0 0 1 2293 203M2520 421A550 550 0 0 1 2180 277M2520 421A550 550 0 0 1 2436 142M2520 421A550 550 0 0 1 2575 160M2520 421A550 550 0 0 1 2092 397M2520 421A550 550 0 0 1 1985 524M2494 594A550 550 0 0 1 2064 631M2494 594A550 550 0 0 1 1951 691M2494 594A550 550 0 0 1 2134 527M2494 594A550 550 0 0 1 2288 523M2372 648A550 550 0 0 1 1985 524M2372 648A550 550 0 0 1 2064 631M2372 648A550 550 0 0 1 1951 691M2372 648A550 550 0 0 1 2029 800M2372 648A550 550 0 0 1 2140 745M2552 984A550 550 0 0 1 2143 890M2552 984A550 550 0 0 1 2046 959M2552 984A550 550 0 0 1 1964 1052M2552 984A550 550 0 0 1 2027 1183M2552 984A550 550 0 0 1 2152 1307M2552 984A550 550 0 0 1 2252 1419M2552 984A550 550 0 0 1 2383 1482M2425 1023A550 550 0 0 1 1927 872M2425 1023A550 550 0 0 1 2046 959M2425 1023A550 550 0 0 1 2132 1049M2425 1023A550 550 0 0 1 2151 1181M2425 1023A550 550 0 0 1 2273 1262M2425 1023A550 550 0 0 1 2152 1307M2527 1101A550 550 0 0 1 2260 1120M2527 1101A550 550 0 0 1 2273 1262M2527 1101A550 550 0 0 1 2377 1332M2527 1101A550 550 0 0 1 2486 1389M2527 1101A550 550 0 0 1 2383 1482M2527 1101A550 550 0 0 1 2252 1419M2647 1023A550 550 0 0 1 2616 1413M2647 1023A550 550 0 0 1 2528 1522M2647 1023A550 550 0 0 1 2691 1544M2647 1023A550 550 0 0 1 2742 1423M2647 1023A550 550 0 0 1 2486 1389M2754 964A550 550 0 0 1 2860 1347M2754 964A550 550 0 0 1 2851 1498M2754 964A550 550 0 0 1 2963 1439M2754 964A550 550 0 0 1 2997 1312M2754 964A550 550 0 0 1 3056 1193M2754 964A550 550 0 0 1 3188 1021M2879 1048A550 550 0 0 1 3201 1273M2879 1048A550 550 0 0 1 3111 1378M2879 1048A550 550 0 0 1 3175 1140M2879 1048A550 550 0 0 1 3298 1129M2879 1048A550 550 0 0 1 3068 960M3000 819A550 550 0 0 1 3149 863M3000 819A550 550 0 0 1 3273 867M3000 819A550 550 0 0 1 3319 974M3000 819A550 550 0 0 1 3188 1021M3000 819A550 550 0 0 1 3377 803M3175 624A550 550 0 0 1 3294 527M3175 624A550 550 0 0 1 3344 663M3175 624A550 550 0 0 1 3166 306M3175 624A550 550 0 0 1 3377 803M3199 438A550 550 0 0 1 3049 231M3199 438A550 550 0 0 1 3166 306M3199 438A550 550 0 0 1 3294 527M3199 438A550 550 0 0 1 2935 203M3199 438A550 550 0 0 1 3112 517"/>
<path class="e" d="M2293 203A550 550 0 0 0 2180 277M2180 277A550 550 0 0 0 2092 397M2092 397A550 550 0 0 0 1985 524M1985 524A550 550 0 0 0 1951 691M1951 691A550 550 0 0 0 2029 800M2436 142A550 550 0 0 0 2347 349M2575 160A550 550 0 0 1 2559 301M2826 130A550 550 0 0 1 2935 203M2935 203A550 550 0 0 1 3049 231M3049 231A550 550 0 0 1 3166 306M3166 306A550 550 0 0 1 3294 527M3294 527A550 550 0 0 1 3344 663M3344 663A550 550 0 0 1 3377 803M3273 867A550 550 0 0 1 3319 974M3298 1129A550 550 0 0 1 3201 1273M3201 1273A550 550 0 0 1 3111 1378M3111 1378A550 550 0 0 1 2963 1439M2963 1439A550 550 0 0 1 2851 1498M2851 1498A550 550 0 0 1 2691 1544M2691 1544A550 550 0 0 1 2528 1522M2528 1522A550 550 0 0 1 2383 1482M2383 1482A550 550 0 0 1 2252 1419M2252 1419A550 550 0 0 1 2152 1307M2152 1307A550 550 0 0 1 2027 1183M2027 1183A550 550 0 0 1 1927 872M1951 691A900 900 0 0 0 2691 1544M2064 631A550 550 0 0 0 1951 691M2180 277A550 550 0 0 1 2226 406M1985 524A550 550 0 0 1 2134 527M2092 397A550 550 0 0 1 2226 406"/>
<path class="m" d="M3199 438Q3080 520 2960 650M2804 257Q2900 320 2870 480M3000 819Q2820 850 2754 964M2520 421Q2640 470 2754 631M2663 420Q2680 700 2639 892M2927 357Q2960 500 2933 701M2846 528Q2700 700 2639 892M2707 545Q2700 700 2639 892M2872 817Q2760 860 2639 892M3112 517Q3000 560 2933 701M3175 624Q3050 640 2933 701M3175 624Q3000 540 2880 545"/>
<path class="m" style="stroke-width:4" d="M3044 596Q2950 505 2860 530M2778 382Q2800 460 2846 528M2933 701Q2780 760 2639 892"/>
<path class="m" style="stroke-width:5" d="M3044 596Q3000 660 2960 690"/>
<path class="m" style="stroke-width:7;stroke:#30b2e6" d="M3199 438Q3000 370 2846 528"/>
<path class="s" style="stroke:#7dcfd4;stroke-width:10" d="M2778 382Q2670 600 2746 831"/>
<path class="s" style="stroke:#86d1cc;stroke-width:8" d="M2754 631Q2740 780 2639 892"/>
<path class="s" style="stroke:#90d3c5;stroke-width:10" d="M2615 742Q2640 820 2639 892"/>
<path class="s" style="stroke:#92d2c6;stroke-width:12" d="M2639 892Q2700 950 2754 964"/>
<path class="s" style="stroke:#5cc4d8;stroke-width:6" d="M2524 834Q2580 880 2639 892"/>
<path class="s" style="stroke:#f6f3a6;stroke-width:14" d="M2846 528Q2850 640 2910 690"/>
<path class="s" style="stroke:#f84a4a;stroke-width:36" d="M2846 528Q2935 555 2933 701"/>
</g>
<g id="b-nodes">
<g id="b-russian-federation" class="n" transform="translate(2933,701)"><circle r="77" style="fill:#fdcf9f"/><text style="font-size:44px">Russian Federation</text></g>
<g id="b-ukraine" class="n" transform="translate(2846,528)"><circle r="52" style="fill:#f84848"/><text style="font-size:30px;font-weight:bold">Ukraine</text></g>
<g id="b-china" class="n" transform="translate(2639,892)"><circle r="42" style="fill:#fde0a8"/><text style="font-size:28px;font-weight:bold">China</text></g>
<g id="b-slovakia" class="n" transform="translate(2778,382)"><circle r="38" style="fill:#3cbbe0"/><text style="font-size:25px">Slovakia</text></g>
<g id="b-kazakhstan" class="n" transform="translate(3044,596)"><circle r="36"/><text style="font-size:25px">Kazakhstan</text></g>
<g id="b-austria" class="n" transform="translate(2746,831)"><circle r="35" style="fill:#b6e0c4"/><text style="font-size:25px">Austria</text></g>
<g id="b-turkey" class="n" transform="translate(2615,742)"><circle r="34"/><text style="font-size:23.5px">Turkey</text></g>
<g id="b-india" class="n" transform="translate(2524,834)"><circle r="32"/><text style="font-size:24.5px">India</text></g>
<g id="b-belarus" class="n" transform="translate(3199,438)"><circle r="30"/><text style="font-size:23.5px">Belarus</text></g>
<g id="b-poland" class="n" transform="translate(2872,817)"><circle r="24" style="fill:#6cc6d6"/><text style="font-size:22.5px">Poland</text></g>
<g id="b-czechia" class="n" transform="translate(2754,631)"><circle r="23" style="fill:#fba87f"/><text style="font-size:22px">Czechia</text></g>
<g id="b-hungary" class="n" transform="translate(2707,545)"><circle r="22" style="fill:#c3e2bd"/><text style="font-size:19.5px">Hungary</text></g>
<g id="b-romania" class="n" transform="translate(2634,632)"><circle r="22"/><text style="font-size:20.5px">Romania</text></g>
<g id="b-lithuania" class="n" transform="translate(3175,624)"><circle r="21"/><text style="font-size:20px">Lithuania</text></g>
<g id="b-iran" class="n" transform="translate(3000,819)"><circle r="20"/><text style="font-size:20.5px">Iran</text></g>
<g id="b-bulgaria" class="n" transform="translate(2663,420)"><circle r="20"/><text style="font-size:20px">Bulgaria</text></g>
<g id="b-rep-korea" class="n" transform="translate(2754,964)"><circle r="20" style="fill:#cce6be"/><text style="font-size:20.5px">Rep. of Korea</text></g>
<g id="b-slovenia" class="n" transform="translate(2953,489)"><circle r="19"/><text style="font-size:19.5px">Slovenia</text></g>
<g id="b-south-africa" class="n" transform="translate(2552,984)"><circle r="19"/><text style="font-size:20px">South Africa</text></g>
<g id="b-indonesia" class="n" transform="translate(2527,1101)"><circle r="19"/><text style="font-size:20px">Indonesia</text></g>
<g id="b-croatia" class="n" transform="translate(2520,421)"><circle r="17"/><text style="font-size:19.5px">Croatia</text></g>
<g id="b-malaysia" class="n" transform="translate(2425,1023)"><circle r="17"/><text style="font-size:20px">Malaysia</text></g>
<g id="b-pakistan" class="n" transform="translate(2661,1169)"><circle r="17"/><text style="font-size:19px">Pakistan</text></g>
<g id="b-hong-kong" class="n" transform="translate(2879,1048)"><circle r="17"/><text style="font-size:19.5px">China, Hong Kong SAR</text></g>
<g id="b-thailand" class="n" transform="translate(2767,1089)"><circle r="17"/><text style="font-size:20px">Thailand</text></g>
<g id="b-georgia" class="n" transform="translate(2927,357)"><circle r="17"/><text style="font-size:19.5px">Georgia</text></g>
<g id="b-estonia" class="n" transform="translate(3055,390)"><circle r="16"/><text style="font-size:19px">Estonia</text></g>
<g id="b-latvia" class="n" transform="translate(3112,517)"><circle r="16"/><text style="font-size:18px">Latvia</text></g>
<g id="b-singapore" class="n" transform="translate(2647,1023)"><circle r="16"/><text style="font-size:18.5px">Singapore</text></g>
<g id="b-egypt" class="n" transform="translate(2372,648)"><circle r="16"/><text style="font-size:19px">Egypt</text></g>
<g id="b-portugal" class="n" transform="translate(2494,594)"><circle r="16"/><text style="font-size:18px">Portugal</text></g>
<g id="b-greece" class="n" transform="translate(2490,708)"><circle r="15"/><text style="font-size:18px">Greece</text></g>
<g id="b-timor-leste" class="n" transform="translate(2436,142)"><circle r="15"/><text>Timor-Leste</text></g>
<g id="b-montenegro" class="n" transform="translate(2575,160)"><circle r="15"/><text>Montenegro</text></g>
<g id="b-burundi" class="n" transform="translate(2293,203)"><circle r="15"/><text>Burundi</text></g>
<g id="b-cabo-verde" class="n" transform="translate(2180,277)"><circle r="15"/><text>Cabo Verde</text></g>
<g id="b-cameroon" class="n" transform="translate(2434,278)"><circle r="15"/><text>Cameroon</text></g>
<g id="b-bosnia" class="n" transform="translate(2674,272)"><circle r="15"/><text>Bosnia Herzegovina</text></g>
<g id="b-azerbaijan" class="n" transform="translate(2559,301)"><circle r="15"/><text>Azerbaijan</text></g>
<g id="b-albania" class="n" transform="translate(2347,349)"><circle r="15"/><text>Albania</text></g>
<g id="b-suriname" class="n" transform="translate(2092,397)"><circle r="15"/><text>Suriname</text></g>
<g id="b-ethiopia" class="n" transform="translate(2226,406)"><circle r="15"/><text>Ethiopia</text></g>
<g id="b-bahrain" class="n" transform="translate(2403,479)"><circle r="15"/><text>Bahrain</text></g>
<g id="b-macedonia" class="n" transform="translate(2586,504)"><circle r="15"/><text>TFYR of Macedonia</text></g>
<g id="b-samoa" class="n" transform="translate(1985,524)"><circle r="15"/><text>Samoa</text></g>
<g id="b-brunei" class="n" transform="translate(2134,527)"><circle r="15"/><text>Brunei Darussalam</text></g>
<g id="b-cote-divoire" class="n" transform="translate(2288,523)"><circle r="15"/><text>Côte d'Ivoire</text></g>
<g id="b-sierra-leone" class="n" transform="translate(2064,631)"><circle r="15"/><text>Sierra Leone</text></g>
<g id="b-nigeria" class="n" transform="translate(2223,633)"><circle r="15"/><text>Nigeria</text></g>
<g id="b-djibouti" class="n" transform="translate(1951,691)"><circle r="15"/><text>Djibouti</text></g>
<g id="b-senegal" class="n" transform="translate(2140,745)"><circle r="15"/><text>Senegal</text></g>
<g id="b-bangladesh" class="n" transform="translate(2278,749)"><circle r="15"/><text>Bangladesh</text></g>
<g id="b-oman" class="n" transform="translate(2029,800)"><circle r="15"/><text>Oman</text></g>
<g id="b-saudi-arabia" class="n" transform="translate(2401,800)"><circle r="15"/><text>Saudi Arabia</text></g>
<g id="b-trinidad" class="n" transform="translate(2700,126)"><circle r="15"/><text>Trinidad and Tobago</text></g>
<g id="b-uruguay" class="n" transform="translate(2826,130)"><circle r="15"/><text>Uruguay</text></g>
<g id="b-moldova" class="n" transform="translate(2935,203)"><circle r="15"/><text>Rep. of Moldova</text></g>
<g id="b-gambia" class="n" transform="translate(3049,231)"><circle r="15"/><text>Gambia</text></g>
<g id="b-serbia" class="n" transform="translate(2804,257)"><circle r="15"/><text>Serbia</text></g>
<g id="b-dominica" class="n" transform="translate(3166,306)"><circle r="15"/><text>Dominica</text></g>
<g id="b-israel" class="n" transform="translate(2815,445)"><circle r="15"/><text>Israel</text></g>
<g id="b-armenia" class="n" transform="translate(3294,527)"><circle r="15"/><text>Armenia</text></g>
<g id="b-dominican-rep" class="n" transform="translate(3344,663)"><circle r="15"/><text>Dominican Rep.</text></g>
<g id="b-tunisia" class="n" transform="translate(3220,743)"><circle r="15"/><text>Tunisia</text></g>
<g id="b-morocco" class="n" transform="translate(3101,767)"><circle r="15"/><text>Morocco</text></g>
<g id="b-antigua" class="n" transform="translate(3377,803)"><circle r="15"/><text>Antigua and Barbuda</text></g>
<g id="b-rwanda" class="n" transform="translate(1927,872)"><circle r="15"/><text>Rwanda</text></g>
<g id="b-gabon" class="n" transform="translate(2143,890)"><circle r="15"/><text>Gabon</text></g>
<g id="b-ecuador" class="n" transform="translate(2272,873)"><circle r="15"/><text>Ecuador</text></g>
<g id="b-uae" class="n" transform="translate(2415,916)"><circle r="15"/><text>United Arab Emirates</text></g>
<g id="b-lebanon" class="n" transform="translate(2046,959)"><circle r="15"/><text>Lebanon</text></g>
<g id="b-ghana" class="n" transform="translate(2269,993)"><circle r="15"/><text>Ghana</text></g>
<g id="b-togo" class="n" transform="translate(1964,1052)"><circle r="15"/><text>Togo</text></g>
<g id="b-fmr-sudan" class="n" transform="translate(2132,1049)"><circle r="15"/><text>Fmr Sudan</text></g>
<g id="b-qatar" class="n" transform="translate(2260,1120)"><circle r="15"/><text>Qatar</text></g>
<g id="b-zambia" class="n" transform="translate(2385,1151)"><circle r="15"/><text>Zambia</text></g>
<g id="b-fiji" class="n" transform="translate(2027,1183)"><circle r="15"/><text>Fiji</text></g>
<g id="b-kuwait" class="n" transform="translate(2151,1181)"><circle r="15"/><text>Kuwait</text></g>
<g id="b-mongolia" class="n" transform="translate(2472,1237)"><circle r="15"/><text>Mongolia</text></g>
<g id="b-kenya" class="n" transform="translate(2273,1262)"><circle r="15"/><text>Kenya</text></g>
<g id="b-mozambique" class="n" transform="translate(2583,1269)"><circle r="15"/><text>Mozambique</text></g>
<g id="b-uganda" class="n" transform="translate(2152,1307)"><circle r="15"/><text>Uganda</text></g>
<g id="b-tanzania" class="n" transform="translate(2377,1332)"><circle r="15"/><text>United Rep. of Tanzania</text></g>
<g id="b-zimbabwe" class="n" transform="translate(2486,1389)"><circle r="15"/><text>Zimbabwe</text></g>
<g id="b-el-salvador" class="n" transform="translate(2252,1419)"><circle r="15"/><text>El Salvador</text></g>
<g id="b-malta" class="n" transform="translate(2616,1413)"><circle r="15"/><text>Malta</text></g>
<g id="b-png" class="n" transform="translate(2383,1482)"><circle r="15"/><text>Papua New Guinea</text></g>
<g id="b-yemen" class="n" transform="translate(2528,1522)"><circle r="15"/><text>Yemen</text></g>
<g id="b-bolivia" class="n" transform="translate(2691,1544)"><circle r="15"/><text>Bolivia (Plurinational State of)</text></g>
<g id="b-algeria" class="n" transform="translate(3149,863)"><circle r="15"/><text>Algeria</text></g>
<g id="b-guinea" class="n" transform="translate(3273,867)"><circle r="15"/><text>Guinea</text></g>
<g id="b-jordan" class="n" transform="translate(2855,902)"><circle r="15"/><text>Jordan</text></g>
<g id="b-chile" class="n" transform="translate(2948,943)"><circle r="15"/><text>Chile</text></g>
<g id="b-panama" class="n" transform="translate(3068,960)"><circle r="15"/><text>Panama</text></g>
<g id="b-kyrgyzstan" class="n" transform="translate(3319,974)"><circle r="15"/><text>Kyrgyzstan</text></g>
<g id="b-cambodia" class="n" transform="translate(3188,1021)"><circle r="15"/><text>Cambodia</text></g>
<g id="b-philippines" class="n" transform="translate(3008,1079)"><circle r="15"/><text>Philippines</text></g>
<g id="b-venezuela" class="n" transform="translate(3175,1140)"><circle r="15"/><text>Venezuela</text></g>
<g id="b-maldives" class="n" transform="translate(3298,1129)"><circle r="15"/><text>Maldives</text></g>
<g id="b-syria" class="n" transform="translate(2802,1204)"><circle r="15"/><text>Syria</text></g>
<g id="b-sri-lanka" class="n" transform="translate(2927,1202)"><circle r="15"/><text>Sri Lanka</text></g>
<g id="b-congo" class="n" transform="translate(3056,1193)"><circle r="15"/><text>Congo</text></g>
<g id="b-lao" class="n" transform="translate(3201,1273)"><circle r="15"/><text>Lao People's Dem. Rep.</text></g>
<g id="b-viet-nam" class="n" transform="translate(2722,1300)"><circle r="15"/><text>Viet Nam</text></g>
<g id="b-namibia" class="n" transform="translate(2997,1312)"><circle r="15"/><text>Namibia</text></g>
<g id="b-myanmar" class="n" transform="translate(2860,1347)"><circle r="15"/><text>Myanmar</text></g>
<g id="b-macao" class="n" transform="translate(3111,1378)"><circle r="15"/><text>China, Macao SAR</text></g>
<g id="b-madagascar" class="n" transform="translate(2742,1423)"><circle r="15"/><text>Madagascar</text></g>
<g id="b-seychelles" class="n" transform="translate(2963,1439)"><circle r="15"/><text>Seychelles</text></g>
<g id="b-costa-rica" class="n" transform="translate(2851,1498)"><circle r="15"/><text>Costa Rica</text></g>
</g>
</g>

<g id="panel-c" clip-path="url(#clipC)">
<g id="c-connectors">
<path class="e" d="M1822 2699A550 550 0 0 1 2036 2650M1822 2699A550 550 0 0 1 2224 2650M1822 2699A550 550 0 0 1 2359 2646M1822 2699A550 550 0 0 1 2088 2705M1822 2699A550 550 0 0 1 2470 2713M1822 2699A550 550 0 0 1 2194 2779M1822 2699A550 550 0 0 1 2350 2790M1822 2699A550 550 0 0 1 2005 2808M1822 2699A550 550 0 0 1 2462 2885M1822 2699A550 550 0 0 1 2092 2895M1822 2699A550 550 0 0 1 1930 2908M1822 2699A550 550 0 0 1 2246 2904M1822 2699A550 550 0 0 1 1826 2973M1822 2699A550 550 0 0 1 2366 2971M1822 2699A550 550 0 0 1 2175 3017M1822 2699A550 550 0 0 1 1988 3033M1822 2699A550 550 0 0 1 2321 3095M1822 2699A550 550 0 0 1 1817 3122M1822 2699A550 550 0 0 1 2101 3123M1822 2699A550 550 0 0 1 1972 3175M1822 2699A550 550 0 0 1 2222 3191M1822 2699A550 550 0 0 1 1850 3241M1822 2699A550 550 0 0 1 2099 3274M1822 2699A550 550 0 0 1 1964 3331M1822 2699A550 550 0 0 1 1806 3373M1822 2699A550 550 0 0 1 1702 3238M1822 2699A550 550 0 0 1 1694 3058M1822 2699A550 550 0 0 1 1590 3162M1822 2699A550 550 0 0 1 1656 3356M1822 2699A550 550 0 0 1 1532 3286M1822 2699A550 550 0 0 1 1499 2670M1822 2699A550 550 0 0 1 1647 2661M1822 2699A550 550 0 0 1 1531 2799M1822 2699A550 550 0 0 1 1500 2891M1822 2699A550 550 0 0 1 1606 2952M1822 2699A550 550 0 0 1 2095 2554M1822 2699A550 550 0 0 1 2214 2518M1822 2699A550 550 0 0 1 2355 2503M1822 2699A550 550 0 0 1 2489 2554M1822 2699A550 550 0 0 1 2051 2444M1822 2699A550 550 0 0 1 2156 2390M1822 2699A550 550 0 0 1 1761 2432"/>
<path class="e" d="M1685 2836A550 550 0 0 1 1157 2651M1685 2836A550 550 0 0 1 1021 2673M1685 2836A550 550 0 0 1 1499 2670M1685 2836A550 550 0 0 1 1302 2708M1685 2836A550 550 0 0 1 1048 2803M1685 2836A550 550 0 0 1 1190 2793M1685 2836A550 550 0 0 1 1379 2780M1685 2836A550 550 0 0 1 1313 2859M1685 2836A550 550 0 0 1 1500 2891M1685 2836A550 550 0 0 1 1077 2941M1685 2836A550 550 0 0 1 1212 2951M1685 2836A550 550 0 0 1 1408 2966M1685 2836A550 550 0 0 1 1530 3029M1685 2836A550 550 0 0 1 1694 3058M1685 2836A550 550 0 0 1 1311 3057M1685 2836A550 550 0 0 1 1163 3091M1685 2836A550 550 0 0 1 1449 3130M1685 2836A550 550 0 0 1 1590 3162M1685 2836A550 550 0 0 1 1288 3187M1685 2836A550 550 0 0 1 1702 3238M1685 2836A550 550 0 0 1 1401 3268M1685 2836A550 550 0 0 1 1532 3286M1685 2836A550 550 0 0 1 1656 3356M1685 2836A550 550 0 0 1 1817 3122M1685 2836A550 550 0 0 1 1850 3241M1685 2836A550 550 0 0 1 1806 3373M1685 2836A550 550 0 0 1 1263 2579M1685 2836A550 550 0 0 1 1402 2584M1685 2836A550 550 0 0 1 1184 2470M1685 2836A550 550 0 0 1 1357 2452"/>
<path class="e" d="M1924 2342A550 550 0 0 1 1721 1884M1924 2342A550 550 0 0 1 1983 1911M1924 2342A550 550 0 0 1 1858 1939M1924 2342A550 550 0 0 1 2051 2018M1924 2342A550 550 0 0 1 2186 2032M1924 2342A550 550 0 0 1 1765 2037M1924 2342A550 550 0 0 1 1909 2068M1924 2342A550 550 0 0 1 2296 2111M1924 2342A550 550 0 0 1 1637 2108M1924 2342A550 550 0 0 1 1632 1989M1924 2342A550 550 0 0 1 2213 2217M1924 2342A550 550 0 0 1 2343 2244M1924 2342A550 550 0 0 1 2103 2262M1924 2342A550 550 0 0 1 2156 2390M1924 2342A550 550 0 0 1 2319 2388M1924 2342A550 550 0 0 1 2461 2377M1924 2342A550 550 0 0 1 2051 2444M1924 2342A550 550 0 0 1 2355 2503M1924 2342A550 550 0 0 1 2214 2518M1924 2342A550 550 0 0 1 2095 2554M1924 2342A550 550 0 0 1 1812 2173M1924 2342A550 550 0 0 1 1487 2240M1924 2342A550 550 0 0 1 1416 2181M1924 2342A550 550 0 0 1 1492 2081"/>
<path class="e" d="M1618 2198A550 550 0 0 1 1504 1916M1618 2198A550 550 0 0 1 1374 1989M1618 2198A550 550 0 0 1 1632 1989M1618 2198A550 550 0 0 1 1492 2081M1618 2198A550 550 0 0 1 1295 2094M1618 2198A550 550 0 0 1 1637 2108M1618 2198A550 550 0 0 1 1160 2159M1618 2198A550 550 0 0 1 1416 2181M1618 2198A550 550 0 0 1 1282 2230M1618 2198A550 550 0 0 1 1487 2240M1618 2198A550 550 0 0 1 1102 2296M1618 2198A550 550 0 0 1 1424 2326M1618 2198A550 550 0 0 1 1249 2358M1618 2198A550 550 0 0 1 1496 2413M1618 2198A550 550 0 0 1 1357 2452M1618 2198A550 550 0 0 1 1484 2509M1618 2198A550 550 0 0 1 1765 2037M1618 2198A550 550 0 0 1 1721 1884M1618 2198A550 550 0 0 1 1858 1939"/>
<path class="e" d="M1591 2556A550 550 0 0 1 1424 2326M1591 2556A550 550 0 0 1 1496 2413M1591 2556A550 550 0 0 1 1357 2452M1591 2556A550 550 0 0 1 1184 2470M1591 2556A550 550 0 0 1 1484 2509M1591 2556A550 550 0 0 1 1030 2540M1591 2556A550 550 0 0 1 1263 2579M1591 2556A550 550 0 0 1 1402 2584M1591 2556A550 550 0 0 1 1157 2651M1591 2556A550 550 0 0 1 1302 2708M1591 2556A550 550 0 0 1 1249 2358M1591 2556A550 550 0 0 1 1049 2411M1591 2556A550 550 0 0 1 1282 2230M1591 2556A550 550 0 0 1 1487 2240M1591 2556A550 550 0 0 1 1499 2670M1591 2556A550 550 0 0 1 1379 2780M1732 2536A550 550 0 0 1 1487 2240M1732 2536A550 550 0 0 1 1424 2326M1732 2536A550 550 0 0 1 1496 2413M1732 2536A550 550 0 0 1 1484 2509M1732 2536A550 550 0 0 1 1812 2173M1732 2536A550 550 0 0 1 1765 2037M1732 2536A550 550 0 0 1 1637 2108M1732 2536A550 550 0 0 1 1632 1989M1732 2536A550 550 0 0 1 2051 2444M1732 2536A550 550 0 0 1 1951 2594M1732 2536A550 550 0 0 1 1647 2661M1732 2536A550 550 0 0 1 1499 2670"/>
<path class="e" d="M1879 2502A550 550 0 0 1 2103 2154M1879 2502A550 550 0 0 1 2051 2444M1879 2502A550 550 0 0 1 2095 2554M1879 2502A550 550 0 0 1 2214 2518M1879 2502A550 550 0 0 1 1909 2068M1879 2502A550 550 0 0 1 1812 2173M1879 2502A550 550 0 0 1 2156 2390M1879 2502A550 550 0 0 1 2036 2650M1879 2502A550 550 0 0 1 2088 2705M1879 2502A550 550 0 0 1 2005 2808M1982 2163A550 550 0 0 1 2051 2018M1982 2163A550 550 0 0 1 2186 2032M1982 2163A550 550 0 0 1 2296 2111M1982 2163A550 550 0 0 1 2343 2244M1982 2163A550 550 0 0 1 2213 2217M1982 2163A550 550 0 0 1 1909 2068M1982 2163A550 550 0 0 1 1858 1939M1982 2163A550 550 0 0 1 1983 1911M1982 2163A550 550 0 0 1 1765 2037M1982 2163A550 550 0 0 1 2103 2262M1951 2594A550 550 0 0 1 2224 2650M1951 2594A550 550 0 0 1 2359 2646M1951 2594A550 550 0 0 1 2088 2705M1951 2594A550 550 0 0 1 2194 2779M1951 2594A550 550 0 0 1 2214 2518M1951 2594A550 550 0 0 1 2355 2503M1951 2594A550 550 0 0 1 2489 2554M1951 2594A550 550 0 0 1 2350 2790M1951 2594A550 550 0 0 1 2470 2713M1951 2594A550 550 0 0 1 2092 2895"/>
<path class="e" d="M1585 2344A550 550 0 0 1 1295 2094M1585 2344A550 550 0 0 1 1160 2159M1585 2344A550 550 0 0 1 1102 2296M1585 2344A550 550 0 0 1 1249 2358M1585 2344A550 550 0 0 1 1049 2411M1585 2344A550 550 0 0 1 1184 2470M1484 2509A550 550 0 0 1 1049 2411M1484 2509A550 550 0 0 1 1030 2540M1484 2509A550 550 0 0 1 1157 2651M1484 2509A550 550 0 0 1 1263 2579M1531 2799A550 550 0 0 1 1157 2651M1531 2799A550 550 0 0 1 1048 2803M1531 2799A550 550 0 0 1 1077 2941M1531 2799A550 550 0 0 1 1163 3091M1531 2799A550 550 0 0 1 1212 2951M1531 2799A550 550 0 0 1 1311 3057M1531 2799A550 550 0 0 1 1288 3187M1606 2952A550 550 0 0 1 1288 3187M1606 2952A550 550 0 0 1 1401 3268M1606 2952A550 550 0 0 1 1449 3130M1606 2952A550 550 0 0 1 1311 3057M1606 2952A550 550 0 0 1 1163 3091M1499 2670A550 550 0 0 1 1021 2673M1499 2670A550 550 0 0 1 1030 2540M1499 2670A550 550 0 0 1 1157 2651M1499 2670A550 550 0 0 1 1190 2793M1499 2670A550 550 0 0 1 1302 2708M1763 2911A550 550 0 0 1 1702 3238M1763 2911A550 550 0 0 1 1806 3373M1763 2911A550 550 0 0 1 1964 3331M1763 2911A550 550 0 0 1 1850 3241M1763 2911A550 550 0 0 1 1656 3356M1930 2908A550 550 0 0 1 2099 3274M1930 2908A550 550 0 0 1 2222 3191M1930 2908A550 550 0 0 1 2321 3095M1930 2908A550 550 0 0 1 2101 3123M1930 2908A550 550 0 0 1 1972 3175M2095 2554A550 550 0 0 1 2461 2377M2095 2554A550 550 0 0 1 2489 2554M2095 2554A550 550 0 0 1 2470 2713M2095 2554A550 550 0 0 1 2359 2646M2095 2554A550 550 0 0 1 2350 2790M2095 2554A550 550 0 0 1 2462 2885M2156 2390A550 550 0 0 1 2461 2377M2156 2390A550 550 0 0 1 2319 2388M2156 2390A550 550 0 0 1 2343 2244M2156 2390A550 550 0 0 1 2355 2503M2156 2390A550 550 0 0 1 2296 2111M2051 2444A550 550 0 0 1 2343 2244M2051 2444A550 550 0 0 1 2319 2388M2051 2444A550 550 0 0 1 2461 2377M2051 2444A550 550 0 0 1 2213 2217M2103 2154A550 550 0 0 1 2296 2111M2103 2154A550 550 0 0 1 2186 2032M2103 2154A550 550 0 0 1 2343 2244M2103 2154A550 550 0 0 1 2051 2018M1812 2173A550 550 0 0 1 1721 1884M1812 2173A550 550 0 0 1 1858 1939M1812 2173A550 550 0 0 1 1632 1989M1812 2173A550 550 0 0 1 1504 1916M1812 2173A550 550 0 0 1 1983 1911M2005 2808A550 550 0 0 1 2366 2971M2005 2808A550 550 0 0 1 2246 2904M2005 2808A550 550 0 0 1 2175 3017M2005 2808A550 550 0 0 1 2321 3095M2092 2895A550 550 0 0 1 2222 3191M2092 2895A550 550 0 0 1 2099 3274M2092 2895A550 550 0 0 1 2366 2971M2092 2895A550 550 0 0 1 2462 2885"/>
<path class="e" d="M1504 1916A550 550 0 0 0 1374 1989M1374 1989A550 550 0 0 1 1492 2081M1295 2094A550 550 0 0 0 1282 2230M1160 2159A550 550 0 0 1 1249 2358M1102 2296A550 550 0 0 0 1049 2411M1049 2411A550 550 0 0 0 1030 2540M1030 2540A550 550 0 0 0 1021 2673M1021 2673A550 550 0 0 0 1048 2803M1048 2803A550 550 0 0 0 1077 2941M1077 2941A550 550 0 0 0 1163 3091M1163 3091A550 550 0 0 0 1288 3187M1288 3187A550 550 0 0 0 1401 3268M1401 3268A550 550 0 0 0 1532 3286M1532 3286A550 550 0 0 0 1656 3356M1806 3373A550 550 0 0 0 1964 3331M1964 3331A550 550 0 0 0 2099 3274M2099 3274A550 550 0 0 0 2222 3191M2222 3191A550 550 0 0 0 2321 3095M2321 3095A550 550 0 0 0 2366 2971M2366 2971A550 550 0 0 0 2462 2885M2470 2713A550 550 0 0 0 2489 2554M2461 2377A550 550 0 0 1 2489 2554M2343 2244A550 550 0 0 1 2461 2377M2296 2111A550 550 0 0 1 2343 2244M2186 2032A550 550 0 0 1 2296 2111M1983 1911A550 550 0 0 1 2186 2032M1721 1884A550 550 0 0 1 1983 1911M1504 1916A550 550 0 0 1 1721 1884M1048 2803A550 550 0 0 1 1190 2793M1157 2651A550 550 0 0 1 1302 2708"/>
<path class="m" d="M1765 2037Q1830 2200 1924 2342M2103 2154Q2080 2300 2051 2444M1618 2198Q1760 2260 1924 2342M1879 2502Q1900 2420 1924 2342M1822 2699Q1860 2600 1951 2594M1591 2556Q1700 2640 1822 2699M1685 2836Q1600 2700 1591 2556M1531 2799Q1560 2680 1591 2556M2051 2444Q2000 2520 1951 2594M2095 2554Q1960 2640 1822 2699M1879 2502Q1860 2600 1822 2699M1812 2173Q1860 2270 1924 2342M1761 2432Q1840 2380 1924 2342"/>
<path class="s" style="stroke:#a4d9a6;stroke-width:3" d="M2103 2154Q2000 2220 1924 2342M1982 2163Q2040 2140 2103 2154"/>
<path class="s" style="stroke:#5cc3c8;stroke-width:3" d="M1618 2198Q1770 2400 1822 2699M1685 2836Q1650 2900 1606 2952M1685 2836Q1700 2740 1647 2661"/>
<path class="s" style="stroke:#6cc6c0;stroke-width:3" d="M1585 2344Q1630 2460 1591 2556M2156 2390Q1950 2380 1761 2432M1951 2594Q2020 2560 2095 2554"/>
<path class="s" style="stroke:#f3a08a;stroke-width:5" d="M1732 2536Q1800 2580 1822 2699"/>
<path class="s" style="stroke:#dfe4a0;stroke-width:6" d="M1591 2556Q1660 2590 1732 2536"/>
<path class="s" style="stroke:#fde9a8;stroke-width:6" d="M1822 2699Q1870 2760 1869 2831M1951 2594Q1880 2620 1822 2699"/>
<path class="s" style="stroke:#fde7a0;stroke-width:8" d="M1685 2836Q1770 2910 1869 2831"/>
<path class="s" style="stroke:#f7b089;stroke-width:8" d="M1685 2836Q1770 2800 1822 2699"/>
<path class="s" style="stroke:#f9b592;stroke-width:14" d="M1531 2799Q1610 2790 1685 2836"/>
<path class="s" style="stroke:#f59a7c;stroke-width:10" d="M1618 2198Q1595 2420 1732 2536"/>
<path class="s" style="stroke:#f9977b;stroke-width:10" d="M1982 2163Q1925 2220 1924 2342"/>
<path class="s" style="stroke:#f46b63;stroke-width:12" d="M1761 2432Q1840 2520 1822 2699"/>
<path class="s" style="stroke:#f84a4a;stroke-width:12" d="M1756 2253Q1860 2230 1924 2342"/>
</g>
<g id="c-nodes">
<g id="c-china" class="n" transform="translate(1822,2699)"><circle r="80" style="fill:#f84848"/><text style="font-size:48px">China</text></g>
<g id="c-russian-federation" class="n" transform="translate(1924,2342)"><circle r="77" style="fill:#fef2b8"/><text style="font-size:46px">Russian Federation</text></g>
<g id="c-india" class="n" transform="translate(1685,2836)"><circle r="66"/><text style="font-size:40px">India</text></g>
<g id="c-austria" class="n" transform="translate(1591,2556)"><circle r="55" style="fill:#fcaa86"/><text style="font-size:32px;font-weight:bold">Austria</text></g>
<g id="c-poland" class="n" transform="translate(1879,2502)"><circle r="55" style="fill:#87d0d8"/><text style="font-size:35px">Poland</text></g>
<g id="c-slovakia" class="n" transform="translate(1618,2198)"><circle r="54" style="fill:#3dbce0"/><text style="font-size:31px;font-weight:bold">Slovakia</text></g>
<g id="c-czechia" class="n" transform="translate(1732,2536)"><circle r="44" style="fill:#f47a60"/><text style="font-size:28px;font-weight:bold">Czechia</text></g>
<g id="c-kazakhstan" class="n" transform="translate(1982,2163)"><circle r="42"/><text style="font-size:29px;font-weight:bold">Kazakhstan</text></g>
<g id="c-turkey" class="n" transform="translate(1951,2594)"><circle r="42"/><text style="font-size:27px;font-weight:bold">Turkey</text></g>
<g id="c-south-africa" class="n" transform="translate(1531,2799)"><circle r="36"/><text style="font-size:27px">South Africa</text></g>
<g id="c-belarus" class="n" transform="translate(2103,2154)"><circle r="35" style="fill:#1db0e6"/><text style="font-size:25.5px">Belarus</text></g>
<g id="c-egypt" class="n" transform="translate(2095,2554)"><circle r="34"/><text style="font-size:27px">Egypt</text></g>
<g id="c-romania" class="n" transform="translate(1585,2344)"><circle r="33"/><text style="font-size:25px">Romania</text></g>
<g id="c-ukraine" class="n" transform="translate(1756,2253)"><circle r="31" style="fill:#dcecc0"/><text style="font-size:22px">Ukraine</text></g>
<g id="c-rep-korea" class="n" transform="translate(1869,2831)"><circle r="31" style="fill:#d5ebc2"/><text style="font-size:25px">Rep. of Korea</text></g>
<g id="c-hungary" class="n" transform="translate(1761,2432)"><circle r="30" style="fill:#fdefb3"/><text style="font-size:24.5px">Hungary</text></g>
<g id="c-indonesia" class="n" transform="translate(1606,2952)"><circle r="30"/><text style="font-size:23px">Indonesia</text></g>
<g id="c-iran" class="n" transform="translate(2156,2390)"><circle r="28"/><text style="font-size:22.5px">Iran</text></g>
<g id="c-malaysia" class="n" transform="translate(1763,2911)"><circle r="28"/><text style="font-size:23px">Malaysia</text></g>
<g id="c-bulgaria" class="n" transform="translate(1812,2173)"><circle r="27"/><text style="font-size:22.5px">Bulgaria</text></g>
<g id="c-slovenia" class="n" transform="translate(2051,2444)"><circle r="26" style="fill:#1aaee6"/><text style="font-size:22.5px">Slovenia</text></g>
<g id="c-pakistan" class="n" transform="translate(1930,2908)"><circle r="22"/><text style="font-size:21px">Pakistan</text></g>
<g id="c-hong-kong" class="n" transform="translate(1826,2973)"><circle r="22"/><text style="font-size:21px">China, Hong Kong SAR</text></g>
<g id="c-viet-nam" class="n" transform="translate(1694,3058)"><circle r="22"/><text style="font-size:21px">Viet Nam</text></g>
<g id="c-lithuania" class="n" transform="translate(1765,2037)"><circle r="21"/><text style="font-size:20.5px">Lithuania</text></g>
<g id="c-mozambique" class="n" transform="translate(1590,3162)"><circle r="20"/><text style="font-size:21px">Mozambique</text></g>
<g id="c-thailand" class="n" transform="translate(1499,2670)"><circle r="20"/><text style="font-size:20.5px">Thailand</text></g>
<g id="c-singapore" class="n" transform="translate(1647,2661)"><circle r="20"/><text style="font-size:20.5px">Singapore</text></g>
<g id="c-zambia" class="n" transform="translate(1408,2966)"><circle r="20"/><text style="font-size:20.5px">Zambia</text></g>
<g id="c-philippines" class="n" transform="translate(1500,2891)"><circle r="20"/><text style="font-size:20.5px">Philippines</text></g>
<g id="c-sierra-leone" class="n" transform="translate(1530,3029)"><circle r="19"/><text style="font-size:20.5px">Sierra Leone</text></g>
<g id="c-saudi-arabia" class="n" transform="translate(2092,2895)"><circle r="19"/><text style="font-size:20.5px">Saudi Arabia</text></g>
<g id="c-portugal" class="n" transform="translate(2005,2808)"><circle r="19"/><text style="font-size:20.5px">Portugal</text></g>
<g id="c-croatia" class="n" transform="translate(1484,2509)"><circle r="19"/><text style="font-size:20.5px">Croatia</text></g>
<g id="c-latvia" class="n" transform="translate(1487,2240)"><circle r="19"/><text style="font-size:20px">Latvia</text></g>
<g id="c-estonia" class="n" transform="translate(1637,2108)"><circle r="18"/><text style="font-size:20px">Estonia</text></g>
<g id="c-greece" class="n" transform="translate(1424,2326)"><circle r="18"/><text style="font-size:20px">Greece</text></g>
<g id="c-macedonia" class="n" transform="translate(1496,2413)"><circle r="18"/><text style="font-size:20px">TFYR of Macedonia</text></g>
<g id="c-kyrgyzstan" class="n" transform="translate(1721,1884)"><circle r="16"/><text>Kyrgyzstan</text></g>
<g id="c-costa-rica" class="n" transform="translate(1504,1916)"><circle r="16"/><text>Costa Rica</text></g>
<g id="c-albania" class="n" transform="translate(1983,1911)"><circle r="16"/><text>Albania</text></g>
<g id="c-georgia" class="n" transform="translate(1858,1939)"><circle r="16"/><text>Georgia</text></g>
<g id="c-malta" class="n" transform="translate(1374,1989)"><circle r="16"/><text>Malta</text></g>
<g id="c-serbia" class="n" transform="translate(1632,1989)"><circle r="16"/><text>Serbia</text></g>
<g id="c-azerbaijan" class="n" transform="translate(2051,2018)"><circle r="16"/><text>Azerbaijan</text></g>
<g id="c-madagascar" class="n" transform="translate(2186,2032)"><circle r="16"/><text>Madagascar</text></g>
<g id="c-kenya" class="n" transform="translate(1909,2068)"><circle r="16"/><text>Kenya</text></g>
<g id="c-israel" class="n" transform="translate(1492,2081)"><circle r="16"/><text>Israel</text></g>
<g id="c-uruguay" class="n" transform="translate(1295,2094)"><circle r="16"/><text>Uruguay</text></g>
<g id="c-armenia" class="n" transform="translate(2296,2111)"><circle r="16"/><text>Armenia</text></g>
<g id="c-djibouti" class="n" transform="translate(1160,2159)"><circle r="16"/><text>Djibouti</text></g>
<g id="c-montenegro" class="n" transform="translate(1416,2181)"><circle r="16"/><text>Montenegro</text></g>
<g id="c-mongolia" class="n" transform="translate(2213,2217)"><circle r="16"/><text>Mongolia</text></g>
<g id="c-guinea" class="n" transform="translate(1282,2230)"><circle r="16"/><text>Guinea</text></g>
<g id="c-moldova" class="n" transform="translate(2343,2244)"><circle r="16"/><text>Rep. of Moldova</text></g>
<g id="c-bosnia" class="n" transform="translate(2103,2262)"><circle r="16"/><text>Bosnia Herzegovina</text></g>
<g id="c-gambia" class="n" transform="translate(1102,2296)"><circle r="16"/><text>Gambia</text></g>
<g id="c-myanmar" class="n" transform="translate(1249,2358)"><circle r="16"/><text>Myanmar</text></g>
<g id="c-kuwait" class="n" transform="translate(2319,2388)"><circle r="16"/><text>Kuwait</text></g>
<g id="c-yemen" class="n" transform="translate(2461,2377)"><circle r="16"/><text>Yemen</text></g>
<g id="c-guyana" class="n" transform="translate(1049,2411)"><circle r="16"/><text>Guyana</text></g>
<g id="c-nigeria" class="n" transform="translate(1357,2452)"><circle r="16"/><text>Nigeria</text></g>
<g id="c-venezuela" class="n" transform="translate(1184,2470)"><circle r="16"/><text>Venezuela</text></g>
<g id="c-ethiopia" class="n" transform="translate(2355,2503)"><circle r="16"/><text>Ethiopia</text></g>
<g id="c-bangladesh" class="n" transform="translate(2214,2518)"><circle r="16"/><text>Bangladesh</text></g>
<g id="c-dominican-rep" class="n" transform="translate(1030,2540)"><circle r="16"/><text>Dominican Rep.</text></g>
<g id="c-cambodia" class="n" transform="translate(2489,2554)"><circle r="16"/><text>Cambodia</text></g>
<g id="c-cote-divoire" class="n" transform="translate(1263,2579)"><circle r="16"/><text>Côte d'Ivoire</text></g>
<g id="c-tanzania" class="n" transform="translate(1402,2584)"><circle r="16"/><text>United Rep. of Tanzania</text></g>
<g id="c-panama" class="n" transform="translate(1157,2651)"><circle r="16"/><text>Panama</text></g>
<g id="c-lao" class="n" transform="translate(1021,2673)"><circle r="16"/><text>Lao People's Dem. Rep.</text></g>
<g id="c-ghana" class="n" transform="translate(1302,2708)"><circle r="16"/><text>Ghana</text></g>
<g id="c-togo" class="n" transform="translate(1048,2803)"><circle r="16"/><text>Togo</text></g>
<g id="c-cameroon" class="n" transform="translate(1190,2793)"><circle r="16"/><text>Cameroon</text></g>
<g id="c-sri-lanka" class="n" transform="translate(1379,2780)"><circle r="16"/><text>Sri Lanka</text></g>
<g id="c-gabon" class="n" transform="translate(1313,2859)"><circle r="16"/><text>Gabon</text></g>
<g id="c-trinidad" class="n" transform="translate(1077,2941)"><circle r="16"/><text>Trinidad and Tobago</text></g>
<g id="c-senegal" class="n" transform="translate(1212,2951)"><circle r="16"/><text>Senegal</text></g>
<g id="c-seychelles" class="n" transform="translate(1311,3057)"><circle r="16"/><text>Seychelles</text></g>
<g id="c-suriname" class="n" transform="translate(1163,3091)"><circle r="16"/><text>Suriname</text></g>
<g id="c-congo" class="n" transform="translate(1449,3130)"><circle r="16"/><text>Congo</text></g>
<g id="c-el-salvador" class="n" transform="translate(1288,3187)"><circle r="16"/><text>El Salvador</text></g>
<g id="c-png" class="n" transform="translate(1702,3238)"><circle r="16"/><text>Papua New Guinea</text></g>
<g id="c-namibia" class="n" transform="translate(1401,3268)"><circle r="16"/><text>Namibia</text></g>
<g id="c-ecuador" class="n" transform="translate(1532,3286)"><circle r="16"/><text>Ecuador</text></g>
<g id="c-fiji" class="n" transform="translate(1656,3356)"><circle r="16"/><text>Fiji</text></g>
<g id="c-chile" class="n" transform="translate(2036,2650)"><circle r="16"/><text>Chile</text></g>
<g id="c-bahrain" class="n" transform="translate(2224,2650)"><circle r="16"/><text>Bahrain</text></g>
<g id="c-qatar" class="n" transform="translate(2359,2646)"><circle r="16"/><text>Qatar</text></g>
<g id="c-uae" class="n" transform="translate(2088,2705)"><circle r="16"/><text>United Arab Emirates</text></g>
<g id="c-oman" class="n" transform="translate(2470,2713)"><circle r="16"/><text>Oman</text></g>
<g id="c-morocco" class="n" transform="translate(2194,2779)"><circle r="16"/><text>Morocco</text></g>
<g id="c-uganda" class="n" transform="translate(2350,2790)"><circle r="16"/><text>Uganda</text></g>
<g id="c-samoa" class="n" transform="translate(2462,2885)"><circle r="16"/><text>Samoa</text></g>
<g id="c-tunisia" class="n" transform="translate(2246,2904)"><circle r="16"/><text>Tunisia</text></g>
<g id="c-lebanon" class="n" transform="translate(2366,2971)"><circle r="16"/><text>Lebanon</text></g>
<g id="c-algeria" class="n" transform="translate(2175,3017)"><circle r="16"/><text>Algeria</text></g>
<g id="c-jordan" class="n" transform="translate(1988,3033)"><circle r="16"/><text>Jordan</text></g>
<g id="c-cabo-verde" class="n" transform="translate(2321,3095)"><circle r="16"/><text>Cabo Verde</text></g>
<g id="c-zimbabwe" class="n" transform="translate(1817,3122)"><circle r="16"/><text>Zimbabwe</text></g>
<g id="c-bolivia" class="n" transform="translate(2101,3123)"><circle r="16"/><text>Bolivia (Plurinational State of)</text></g>
<g id="c-brunei" class="n" transform="translate(1972,3175)"><circle r="16"/><text>Brunei Darussalam</text></g>
<g id="c-rwanda" class="n" transform="translate(2222,3191)"><circle r="16"/><text>Rwanda</text></g>
<g id="c-maldives" class="n" transform="translate(1850,3241)"><circle r="16"/><text>Maldives</text></g>
<g id="c-syria" class="n" transform="translate(2099,3274)"><circle r="16"/><text>Syria</text></g>
<g id="c-timor-leste" class="n" transform="translate(1964,3331)"><circle r="16"/><text>Timor-Leste</text></g>
<g id="c-macao" class="n" transform="translate(1806,3373)"><circle r="16"/><text>China, Macao SAR</text></g>
</g>
</g>
<g id="captions">
<text class="cap" x="884" y="1750">(a)</text>
<text class="cap" x="2628" y="1750">(b)</text>
<text class="cap" x="1755" y="3512">(c)</text>
</g>
</svg>
